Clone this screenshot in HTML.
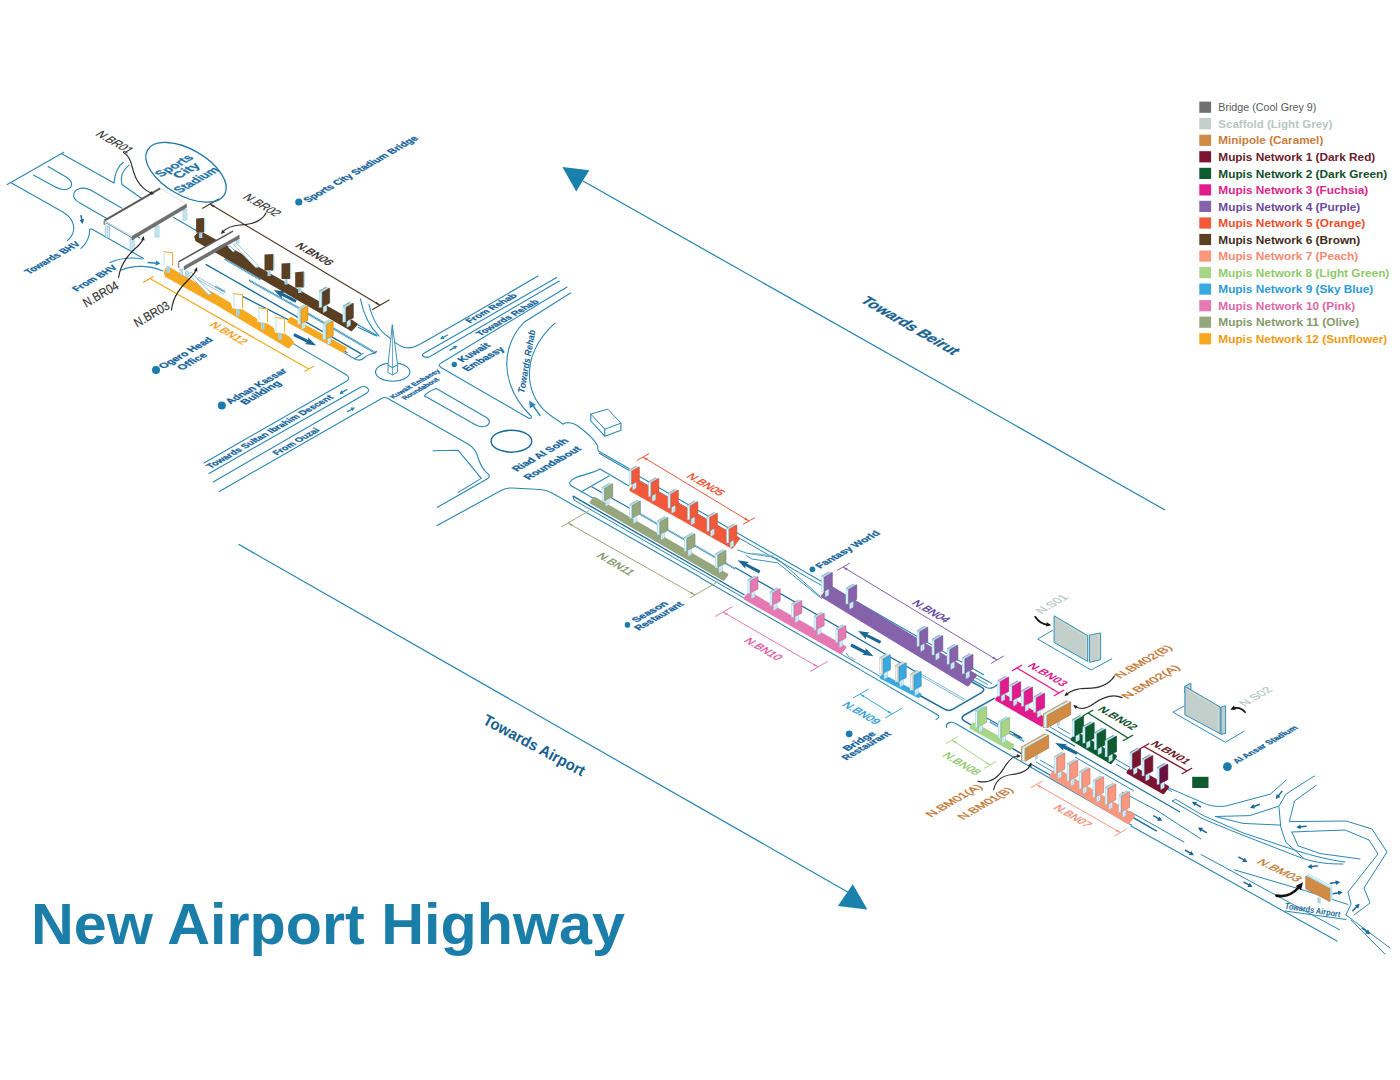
<!DOCTYPE html>
<html><head><meta charset="utf-8"><title>New Airport Highway</title>
<style>
html,body{margin:0;padding:0;background:#fff;}
body{width:1400px;height:1080px;overflow:hidden;}
svg{display:block;font-family:"Liberation Sans",sans-serif;}
</style></head><body>
<svg width="1400" height="1080" viewBox="0 0 1400 1080">
<rect width="1400" height="1080" fill="#fff"/>
<text transform="translate(31.0,944.0)" font-size="56.5" fill="#1b7ea8" font-weight="bold" font-style="normal" text-anchor="start" textLength="594" lengthAdjust="spacingAndGlyphs" >New Airport Highway</text>
<rect x="1199.3" y="101.6" width="11.8" height="11.2" fill="#6f7072"/>
<text transform="translate(1218.3,111.3)" font-size="11.8" fill="#58595b" font-weight="normal" font-style="normal" text-anchor="start" textLength="98" lengthAdjust="spacingAndGlyphs" >Bridge (Cool Grey 9)</text>
<rect x="1199.3" y="118.1" width="11.8" height="11.2" fill="#c3cfcb"/>
<text transform="translate(1218.3,127.8)" font-size="11.8" fill="#b7c7c3" font-weight="bold" font-style="normal" text-anchor="start" textLength="114" lengthAdjust="spacingAndGlyphs" >Scaffold (Light Grey)</text>
<rect x="1199.3" y="134.7" width="11.8" height="11.2" fill="#d08b46"/>
<text transform="translate(1218.3,144.4)" font-size="11.8" fill="#c97d3a" font-weight="bold" font-style="normal" text-anchor="start" textLength="105" lengthAdjust="spacingAndGlyphs" >Minipole (Caramel)</text>
<rect x="1199.3" y="151.2" width="11.8" height="11.2" fill="#7a1430"/>
<text transform="translate(1218.3,160.9)" font-size="11.8" fill="#6d1a2c" font-weight="bold" font-style="normal" text-anchor="start" textLength="157" lengthAdjust="spacingAndGlyphs" >Mupis Network 1 (Dark Red)</text>
<rect x="1199.3" y="167.8" width="11.8" height="11.2" fill="#0f5a2f"/>
<text transform="translate(1218.3,177.5)" font-size="11.8" fill="#0f4f2b" font-weight="bold" font-style="normal" text-anchor="start" textLength="169" lengthAdjust="spacingAndGlyphs" >Mupis Network 2 (Dark Green)</text>
<rect x="1199.3" y="184.3" width="11.8" height="11.2" fill="#e21b8d"/>
<text transform="translate(1218.3,194.0)" font-size="11.8" fill="#dd1f8a" font-weight="bold" font-style="normal" text-anchor="start" textLength="150" lengthAdjust="spacingAndGlyphs" >Mupis Network 3 (Fuchsia)</text>
<rect x="1199.3" y="200.8" width="11.8" height="11.2" fill="#8662ab"/>
<text transform="translate(1218.3,210.5)" font-size="11.8" fill="#6a4a9c" font-weight="bold" font-style="normal" text-anchor="start" textLength="142" lengthAdjust="spacingAndGlyphs" >Mupis Network 4 (Purple)</text>
<rect x="1199.3" y="217.4" width="11.8" height="11.2" fill="#f1593a"/>
<text transform="translate(1218.3,227.1)" font-size="11.8" fill="#ee4b2b" font-weight="bold" font-style="normal" text-anchor="start" textLength="147" lengthAdjust="spacingAndGlyphs" >Mupis Network 5 (Orange)</text>
<rect x="1199.3" y="233.9" width="11.8" height="11.2" fill="#5a3f23"/>
<text transform="translate(1218.3,243.6)" font-size="11.8" fill="#3f2d1a" font-weight="bold" font-style="normal" text-anchor="start" textLength="142" lengthAdjust="spacingAndGlyphs" >Mupis Network 6 (Brown)</text>
<rect x="1199.3" y="250.5" width="11.8" height="11.2" fill="#f9977f"/>
<text transform="translate(1218.3,260.2)" font-size="11.8" fill="#f58a72" font-weight="bold" font-style="normal" text-anchor="start" textLength="140" lengthAdjust="spacingAndGlyphs" >Mupis Network 7 (Peach)</text>
<rect x="1199.3" y="267.0" width="11.8" height="11.2" fill="#a9d586"/>
<text transform="translate(1218.3,276.7)" font-size="11.8" fill="#8fc96a" font-weight="bold" font-style="normal" text-anchor="start" textLength="171" lengthAdjust="spacingAndGlyphs" >Mupis Network 8 (Light Green)</text>
<rect x="1199.3" y="283.5" width="11.8" height="11.2" fill="#3aa9e0"/>
<text transform="translate(1218.3,293.2)" font-size="11.8" fill="#2b9bd6" font-weight="bold" font-style="normal" text-anchor="start" textLength="155" lengthAdjust="spacingAndGlyphs" >Mupis Network 9 (Sky Blue)</text>
<rect x="1199.3" y="300.1" width="11.8" height="11.2" fill="#e679b2"/>
<text transform="translate(1218.3,309.8)" font-size="11.8" fill="#e066a6" font-weight="bold" font-style="normal" text-anchor="start" textLength="137" lengthAdjust="spacingAndGlyphs" >Mupis Network 10 (Pink)</text>
<rect x="1199.3" y="316.6" width="11.8" height="11.2" fill="#97a77d"/>
<text transform="translate(1218.3,326.3)" font-size="11.8" fill="#86996a" font-weight="bold" font-style="normal" text-anchor="start" textLength="141" lengthAdjust="spacingAndGlyphs" >Mupis Network 11 (Olive)</text>
<rect x="1199.3" y="333.2" width="11.8" height="11.2" fill="#f6a81f"/>
<text transform="translate(1218.3,342.9)" font-size="11.8" fill="#f39a10" font-weight="bold" font-style="normal" text-anchor="start" textLength="169" lengthAdjust="spacingAndGlyphs" >Mupis Network 12 (Sunflower)</text>
<line x1="583.0" y1="181.0" x2="1165.0" y2="510.0" stroke="#2383b1" stroke-width="1.2" />
<polygon points="562.4,167.0 589.3,170.3 576.2,191.6" fill="#1a80ac" stroke="none" stroke-width="0" />
<line x1="238.5" y1="544.3" x2="852.0" y2="894.5" stroke="#2383b1" stroke-width="1.2" />
<polygon points="852.8,884.3 867.4,909.5 837.8,906.1" fill="#1a80ac" stroke="none" stroke-width="0" />
<text transform="translate(482.0,723.3) rotate(28.2)" font-size="15.5" fill="#15608f" font-weight="bold" font-style="normal" text-anchor="start" textLength="113" lengthAdjust="spacingAndGlyphs" >Towards Airport</text>
<path d="M7.2,184.5 L63.8,152.2" stroke="#2a86b3" stroke-width="1.1" fill="none" stroke-linecap="round" stroke-linejoin="round"/>
<path d="M61.7,153.7 L114,183.1 C115,172 118,166 123.4,162.3" stroke="#2a86b3" stroke-width="1.1" fill="none" stroke-linecap="round" stroke-linejoin="round"/>
<path d="M129,165.2 C122,171 120,178 122,184.5 L141,198" stroke="#2a86b3" stroke-width="1.1" fill="none" stroke-linecap="round" stroke-linejoin="round"/>
<path d="M48,166.6 L67,177.5 C74,182 73,189.5 64,189.5 C60,189.5 57,188 54,186.3 L33.7,175.2" stroke="#2a86b3" stroke-width="1.1" fill="none" stroke-linecap="round" stroke-linejoin="round"/>
<path d="M122,208.2 L91,190.3 C84,186.5 76,188 74,193 C72.5,197.5 76,201 80.3,203.2 L112,221.5" stroke="#2a86b3" stroke-width="1.1" fill="none" stroke-linecap="round" stroke-linejoin="round"/>
<path d="M11.5,183.1 L62,211.5 C72,217 76,226 72.5,234 C71,237.5 69,239.5 67.4,240.5" stroke="#2a86b3" stroke-width="1.1" fill="none" stroke-linecap="round" stroke-linejoin="round"/>
<path d="M81,248.4 C87,243 90,236 89.7,229 L91.8,229 L143.5,258.4" stroke="#2a86b3" stroke-width="1.1" fill="none" stroke-linecap="round" stroke-linejoin="round"/>
<line x1="80.9" y1="215.1" x2="82.4" y2="222.1" stroke="#1b6796" stroke-width="1.5" />
<polygon points="82.7,223.9 79.5,220.0 84.1,219.0" fill="#1b6796" stroke="none" stroke-width="0" />
<path d="M110,262.5 C122,257.5 134,257.5 142,259" stroke="#2a86b3" stroke-width="1.1" fill="none" stroke-linecap="round" stroke-linejoin="round"/>
<path d="M121.5,270 C134,264.5 150,265.5 163,271" stroke="#2a86b3" stroke-width="1.1" fill="none" stroke-linecap="round" stroke-linejoin="round"/>
<line x1="147.5" y1="262.5" x2="158.6" y2="263.3" stroke="#2a86b3" stroke-width="1.6" />
<polygon points="160.5,263.5 155.5,265.7 155.9,260.6" fill="#2a86b3" stroke="none" stroke-width="0" />
<path d="M173.2,217.3 L197,231" stroke="#2a86b3" stroke-width="1.1" fill="none" stroke-linecap="round" stroke-linejoin="round"/>
<path d="M141,198 L160,209" stroke="#2a86b3" stroke-width="1.1" fill="none" stroke-linecap="round" stroke-linejoin="round"/>
<path d="M126,230 L140,238" stroke="#2a86b3" stroke-width="1.1" fill="none" stroke-linecap="round" stroke-linejoin="round"/>
<path d="M206.2,264.6 L231.4,279 L360.4,353.3" stroke="#1c6c9c" stroke-width="1.4" fill="none" stroke-linecap="round" stroke-linejoin="round"/>
<path d="M242.5,296.4 L297.1,324.3 L347,352.5" stroke="#1c6c9c" stroke-width="1.2" fill="none" stroke-linecap="round" stroke-linejoin="round"/>
<line x1="224.8" y1="258.9" x2="260.7" y2="279.7" stroke="#8cc3dc" stroke-width="2"/>
<line x1="224.8" y1="258.9" x2="260.7" y2="279.7" stroke="#3b8fbd" stroke-width="2" stroke-dasharray="0.7 0.9"/>
<line x1="249.2" y1="280.4" x2="298.6" y2="307.9" stroke="#8cc3dc" stroke-width="2"/>
<line x1="249.2" y1="280.4" x2="298.6" y2="307.9" stroke="#3b8fbd" stroke-width="2" stroke-dasharray="0.7 0.9"/>
<line x1="300.0" y1="309.0" x2="374.8" y2="352.6" stroke="#8cc3dc" stroke-width="2.2"/>
<line x1="300.0" y1="309.0" x2="374.8" y2="352.6" stroke="#3b8fbd" stroke-width="2.2" stroke-dasharray="0.7 0.9"/>
<line x1="215.5" y1="286.5" x2="224.5" y2="291.5" stroke="#8cc3dc" stroke-width="2"/>
<line x1="215.5" y1="286.5" x2="224.5" y2="291.5" stroke="#3b8fbd" stroke-width="2" stroke-dasharray="0.7 0.9"/>
<polygon points="296.8,300.0 283.1,293.0 285.4,291.6 273.9,290.0 281.9,298.4 281.6,295.7 295.4,302.8" fill="#1b6796" stroke="none" stroke-width="0" />
<polygon points="293.2,336.0 307.0,342.8 304.7,344.1 316.2,345.6 308.0,337.3 308.4,340.0 294.6,333.2" fill="#1b6796" stroke="none" stroke-width="0" />
<path d="M293.6,343.9 L345.5,374.3 C349,376.5 350,379 346.5,381.2 L204,463" stroke="#2a86b3" stroke-width="1.1" fill="none" stroke-linecap="round" stroke-linejoin="round"/>
<path d="M343.9,352.6 L354.5,358.8 C359,361.5 362,360 364.5,357.5 C367,355 371,353.8 375.5,353 L376.5,351.2 L374.8,352.6" stroke="#2a86b3" stroke-width="1.1" fill="none" stroke-linecap="round" stroke-linejoin="round"/>
<path d="M354.5,358.8 L363,353.5" stroke="#2a86b3" stroke-width="1.1" fill="none" stroke-linecap="round" stroke-linejoin="round"/>
<path d="M360.4,298.8 C363,312 369,326 379.1,336.1" stroke="#2a86b3" stroke-width="1.1" fill="none" stroke-linecap="round" stroke-linejoin="round"/>
<path d="M369,304.5 C372,318 378,330 389.1,337.5 C393,341 398,345.5 404,347.3 C409,348.8 414,347.5 419,344.8 L460,321.5 L538,276" stroke="#2a86b3" stroke-width="1.1" fill="none" stroke-linecap="round" stroke-linejoin="round"/>
<path d="M357.5,324.5 L377,335.5" stroke="#2a86b3" stroke-width="1.1" fill="none" stroke-linecap="round" stroke-linejoin="round"/>
<path d="M358.5,327.5 L376.5,336" stroke="#2a86b3" stroke-width="1.1" fill="none" stroke-linecap="round" stroke-linejoin="round"/>
<ellipse cx="392.7" cy="372" rx="17.2" ry="9.3" fill="#fff" stroke="#2a86b3" stroke-width="1.1"/>
<polygon points="388.0,365.0 392.6,367.5 397.6,364.8 397.6,372.0 392.6,375.0 388.0,372.5" fill="#fff" stroke="#2a86b3" stroke-width="0.9" stroke-linejoin="round"/>
<line x1="392.6" y1="367.5" x2="392.6" y2="375.0" stroke="#2a86b3" stroke-width="0.8" />
<polygon points="392.3,324.6 388.0,365.0 392.6,367.5 397.6,364.8" fill="#fff" stroke="#2a86b3" stroke-width="0.9" stroke-linejoin="round"/>
<line x1="392.3" y1="326.0" x2="392.6" y2="367.5" stroke="#2a86b3" stroke-width="0.7" />
<path d="M426,357.2 C422.5,356.8 421,354.8 424,353.2 L556.7,277.5" stroke="#2a86b3" stroke-width="1.1" fill="none" stroke-linecap="round" stroke-linejoin="round"/>
<path d="M426,357.2 C427.5,357.6 428.5,357.3 430,356.5 L559.3,281" stroke="#2a86b3" stroke-width="1.1" fill="none" stroke-linecap="round" stroke-linejoin="round"/>
<path d="M567.1,287 L441.5,362.8 C438.5,364.6 438.5,366 441,367.5 L527,417.2 C530.5,419.2 532.3,418.3 531,416 C512,398 502,372 509,348 C512,338 517,329 524,322.3 L570.5,293" stroke="#2a86b3" stroke-width="1.1" fill="none" stroke-linecap="round" stroke-linejoin="round"/>
<path d="M555,323.1 C538,338 528,358 529.5,378 C531,396 541,409 552,416.5 C556,419.2 559,421 562.7,424.2 C566,422 572,422 576.7,425.2 C585,431 594,438 597.8,446.3 C597.3,448.5 597.5,450 598.8,451.3 L629,468.4" stroke="#2a86b3" stroke-width="1.1" fill="none" stroke-linecap="round" stroke-linejoin="round"/>
<line x1="447.9" y1="334.8" x2="441.5" y2="338.5" stroke="#2a86b3" stroke-width="1.3" />
<polygon points="440.1,339.2 442.4,335.5 444.5,339.1" fill="#2a86b3" stroke="none" stroke-width="0" />
<line x1="449.6" y1="350.4" x2="456.0" y2="346.6" stroke="#2a86b3" stroke-width="1.3" />
<polygon points="457.4,345.9 455.1,349.6 453.0,346.0" fill="#2a86b3" stroke="none" stroke-width="0" />
<line x1="540.4" y1="416.0" x2="531.5" y2="403.5" stroke="#2a86b3" stroke-width="1.3" />
<polygon points="529.2,400.6 535.8,404.8 529.8,408.3" fill="#2a86b3" stroke="none" stroke-width="0" />
<path d="M424.5,396.2 C425.5,393.5 431,390.5 436.3,388.6 L486,417.3 C490.5,420 490.5,424 486,426 C482,427.7 478.5,426.5 475,424.5 L426.5,397 Z" stroke="#2a86b3" stroke-width="1.1" fill="none" stroke-linecap="round" stroke-linejoin="round"/>
<path d="M209,473.4 L360.4,387.3 C363.5,385.6 365,386.3 367,387.8 C369.5,389.8 369,391.8 365.6,393.8 L213.2,482" stroke="#2a86b3" stroke-width="1.1" fill="none" stroke-linecap="round" stroke-linejoin="round"/>
<path d="M219.3,491.5 L381.5,398.5 C383.5,397.2 385.5,397.2 387.5,398.3 L468,444 C473,447 476,451 477.5,456 C479.5,463 483,470 488.4,474.4 C490,476 489.5,477.5 487,479 L437.5,507.3" stroke="#2a86b3" stroke-width="1.1" fill="none" stroke-linecap="round" stroke-linejoin="round"/>
<line x1="347.1" y1="389.4" x2="340.7" y2="393.1" stroke="#2a86b3" stroke-width="1.3" />
<polygon points="339.3,393.9 341.6,390.1 343.7,393.7" fill="#2a86b3" stroke="none" stroke-width="0" />
<line x1="347.1" y1="411.9" x2="353.5" y2="408.2" stroke="#2a86b3" stroke-width="1.3" />
<polygon points="354.9,407.4 352.6,411.2 350.5,407.6" fill="#2a86b3" stroke="none" stroke-width="0" />
<path d="M433.1,450.7 L458.2,450.3 L481.3,478.4 L458.2,492.4" stroke="#2a86b3" stroke-width="1.1" fill="none" stroke-linecap="round" stroke-linejoin="round"/>
<ellipse cx="511.4" cy="441.2" rx="20.3" ry="11" fill="none" stroke="#1c6c9c" stroke-width="1.4"/>
<path d="M437.1,525.6 L501,490.5 C505,488.3 508,487.8 512,488 L540,489.5 C545,489.8 548,490.8 552,493 L700,577" stroke="#2a86b3" stroke-width="1.1" fill="none" stroke-linecap="round" stroke-linejoin="round"/>
<polygon points="590.8,414.1 607.8,409.1 620.9,423.2 604.8,429.2" fill="#fff" stroke="#2a86b3" stroke-width="1" stroke-linejoin="round"/>
<path d="M590.8,414.1 L590.8,421 L604.8,436.2 L620.9,430.2 L620.9,423.2 M604.8,429.2 L604.8,436.2" stroke="#2a86b3" stroke-width="1.1" fill="none" stroke-linecap="round" stroke-linejoin="round"/>
<line x1="598.8" y1="453.1" x2="984.0" y2="675.1" stroke="#2a86b3" stroke-width="1.1" />
<line x1="629.0" y1="474.5" x2="992.0" y2="683.7" stroke="#2a86b3" stroke-width="1.0" />
<path d="M600,469 C594,473 583,474.5 576,477.5 C570,480 568,483.5 571.5,486 C574,487.8 577,489 581,491.2 L640,525" stroke="#2a86b3" stroke-width="1.1" fill="none" stroke-linecap="round" stroke-linejoin="round"/>
<path d="M600,469 L629,486" stroke="#2a86b3" stroke-width="1.1" fill="none" stroke-linecap="round" stroke-linejoin="round"/>
<path d="M581,492 L609,476" stroke="#2a86b3" stroke-width="1.1" fill="none" stroke-linecap="round" stroke-linejoin="round"/>
<path d="M592,487 L640,514" stroke="#1c6c9c" stroke-width="1.1" fill="none" stroke-linecap="round" stroke-linejoin="round"/>
<line x1="640.0" y1="514.0" x2="735.0" y2="568.8" stroke="#8cc3dc" stroke-width="1.8"/>
<line x1="640.0" y1="514.0" x2="735.0" y2="568.8" stroke="#3b8fbd" stroke-width="1.8" stroke-dasharray="0.7 0.9"/>
<line x1="735.0" y1="567.5" x2="921.0" y2="674.7" stroke="#1c6c9c" stroke-width="1.2" />
<line x1="921.0" y1="674.0" x2="965.5" y2="699.7" stroke="#5fa7cb" stroke-width="0.8" />
<line x1="921.0" y1="676.0" x2="964.0" y2="700.8" stroke="#5fa7cb" stroke-width="0.8" />
<line x1="573.0" y1="496.1" x2="744.5" y2="595.0" stroke="#1c6c9c" stroke-width="1.4" />
<line x1="574.0" y1="500.0" x2="881.0" y2="676.9" stroke="#2a86b3" stroke-width="1.0" />
<path d="M573,496.1 L574,499.9" stroke="#1c6c9c" stroke-width="0.9" fill="none" stroke-linecap="round" stroke-linejoin="round"/>
<line x1="700.0" y1="577.4" x2="860.0" y2="669.6" stroke="#2a86b3" stroke-width="1.1" />
<line x1="860.0" y1="669.6" x2="936.5" y2="714.3" stroke="#2a86b3" stroke-width="1.1" />
<path d="M737.6,549.9 L746.7,553.2 L772.6,557.1 L777.8,559 L820,596.2" stroke="#2a86b3" stroke-width="0.9" fill="none" stroke-linecap="round" stroke-linejoin="round"/>
<path d="M746,555.5 L751.9,559 L777.8,562.9 L821.5,598.5" stroke="#2a86b3" stroke-width="0.9" fill="none" stroke-linecap="round" stroke-linejoin="round"/>
<path d="M752,553.5 L773,556" stroke="#7fbad6" stroke-width="1.6" fill="none" stroke-linecap="round" stroke-linejoin="round"/>
<polygon points="760.4,570.6 746.7,563.4 749.1,562.1 737.6,560.3 745.5,568.8 745.3,566.1 759.0,573.4" fill="#1b6796" stroke="none" stroke-width="0" />
<polygon points="881.2,640.9 867.2,633.9 869.5,632.5 858.0,631.0 866.1,639.3 865.8,636.6 879.8,643.7" fill="#1b6796" stroke="none" stroke-width="0" />
<polygon points="850.3,646.4 864.3,653.4 862.0,654.8 873.5,656.3 865.4,648.0 865.7,650.7 851.7,643.6" fill="#1b6796" stroke="none" stroke-width="0" />
<polygon points="656.6,528.2 662.1,531.1 660.4,531.3 666.5,532.5 662.0,528.1 662.9,529.7 657.4,526.8" fill="#1b6796" stroke="none" stroke-width="0" />
<path d="M919.9,695.5 L944.5,709.2 C947.5,710.9 950,710.9 953,709.2 L981.5,692.6 C984.6,690.8 984.6,688.8 981.5,687.2 L972,682" stroke="#1c6c9c" stroke-width="1.5" fill="none" stroke-linecap="round" stroke-linejoin="round"/>
<path d="M936.5,714.3 C939.8,716.1 940.3,717.6 936,719.5" stroke="#2a86b3" stroke-width="1.1" fill="none" stroke-linecap="round" stroke-linejoin="round"/>
<path d="M946.5,727.5 C946,724.8 947.5,723 950.5,722.4 C952.5,722 954,722.6 956,723.8 L1040,772.5" stroke="#2a86b3" stroke-width="1.1" fill="none" stroke-linecap="round" stroke-linejoin="round"/>
<path d="M846.5,653.5 L849,657" stroke="#2a86b3" stroke-width="0.8" fill="none" stroke-linecap="round" stroke-linejoin="round"/>
<path d="M972.9,680 L986,687.3 C989.5,689.2 993,688.5 997.4,684.5" stroke="#2a86b3" stroke-width="1.1" fill="none" stroke-linecap="round" stroke-linejoin="round"/>
<path d="M975,677.5 L987.5,684.5 M977,675.3 L989,682" stroke="#2a86b3" stroke-width="0.9" fill="none" stroke-linecap="round" stroke-linejoin="round"/>
<path d="M994.2,698.3 L964.5,715 C961.2,716.9 961.2,719.3 964.5,721.2 L1022,754" stroke="#1c6c9c" stroke-width="1.5" fill="none" stroke-linecap="round" stroke-linejoin="round"/>
<path d="M976,712 L1022,738" stroke="#1c6c9c" stroke-width="1.1" fill="none" stroke-linecap="round" stroke-linejoin="round"/>
<line x1="990.0" y1="722.0" x2="1024.0" y2="741.5" stroke="#8cc3dc" stroke-width="1.6"/>
<line x1="990.0" y1="722.0" x2="1024.0" y2="741.5" stroke="#3b8fbd" stroke-width="1.6" stroke-dasharray="0.7 0.9"/>
<polygon points="1013.1,734.5 1018.2,737.3 1016.4,737.5 1022.5,738.8 1018.1,734.3 1018.9,736.0 1013.9,733.1" fill="#1b6796" stroke="none" stroke-width="0" />
<polygon points="1077.9,752.0 1064.5,745.7 1066.8,744.3 1055.2,743.0 1063.5,751.1 1063.1,748.5 1076.5,754.8" fill="#1b6796" stroke="none" stroke-width="0" />
<line x1="1046.0" y1="729.5" x2="1075.0" y2="746.2" stroke="#1c6c9c" stroke-width="1.1" />
<line x1="1050.0" y1="727.0" x2="1072.0" y2="739.7" stroke="#2a86b3" stroke-width="0.9" />
<line x1="1058.0" y1="727.0" x2="1070.0" y2="733.9" stroke="#2a86b3" stroke-width="0.9" />
<line x1="1030.0" y1="763.5" x2="1062.0" y2="781.9" stroke="#1c6c9c" stroke-width="1.2" />
<line x1="1036.0" y1="762.0" x2="1060.0" y2="775.8" stroke="#2a86b3" stroke-width="0.9" />
<line x1="1040.0" y1="760.0" x2="1058.0" y2="770.4" stroke="#2a86b3" stroke-width="0.9" />
<line x1="1040.0" y1="772.5" x2="1132.0" y2="825.5" stroke="#2a86b3" stroke-width="1.1" />
<line x1="1064.0" y1="745.0" x2="1180.0" y2="811.9" stroke="#1c6c9c" stroke-width="1.1" />
<line x1="1075.0" y1="757.0" x2="1134.0" y2="791.0" stroke="#2a86b3" stroke-width="1.0" />
<line x1="1112.0" y1="757.0" x2="1172.0" y2="791.6" stroke="#2a86b3" stroke-width="1.0" />
<line x1="1116.0" y1="764.0" x2="1130.0" y2="772.1" stroke="#2a86b3" stroke-width="1.0" />
<line x1="1131.0" y1="825.9" x2="1337.5" y2="941.3" stroke="#2a86b3" stroke-width="1.1" />
<line x1="1200.7" y1="854.3" x2="1340.0" y2="930.0" stroke="#2a86b3" stroke-width="1.0" />
<line x1="1132.7" y1="817.3" x2="1156.8" y2="831.1" stroke="#1c6c9c" stroke-width="1.4" />
<line x1="1129.3" y1="811.3" x2="1184.3" y2="842.3" stroke="#2a86b3" stroke-width="1.0" />
<path d="M1122.4,792.4 L1156.8,810.4 L1200.7,838.8" stroke="#2a86b3" stroke-width="1.0" fill="none" stroke-linecap="round" stroke-linejoin="round"/>
<path d="M1172.3,801 L1175.7,799.3 L1203.3,815.6 L1242.9,832.8 L1296,850.5 C1315,856.5 1330,860 1345,862" stroke="#2a86b3" stroke-width="1.0" fill="none" stroke-linecap="round" stroke-linejoin="round"/>
<path d="M1172.3,801 L1203.3,819 L1231,830.5 L1301.5,858 C1318,863.5 1330,864 1343,864" stroke="#2a86b3" stroke-width="1.0" fill="none" stroke-linecap="round" stroke-linejoin="round"/>
<path d="M1167.1,787.2 L1206.7,804.4 C1213,806.5 1219,806.8 1225.6,806.1 L1270.4,794.1 L1285.9,780.3" stroke="#2a86b3" stroke-width="1.0" fill="none" stroke-linecap="round" stroke-linejoin="round"/>
<path d="M1215.3,816.5 L1249.7,815.6 L1279,806.1 L1285.9,794.1 L1314.3,776" stroke="#2a86b3" stroke-width="1.0" fill="none" stroke-linecap="round" stroke-linejoin="round"/>
<path d="M1215.3,816.5 L1242.9,823.4 L1280.7,825.1" stroke="#2a86b3" stroke-width="1.0" fill="none" stroke-linecap="round" stroke-linejoin="round"/>
<path d="M1279,807 L1280.7,826.8 L1285.9,842.3 L1303.1,857.8" stroke="#2a86b3" stroke-width="1.0" fill="none" stroke-linecap="round" stroke-linejoin="round"/>
<path d="M1316,785.5 L1294.5,801 L1289.3,821.6 L1346,821 L1372,829 L1387,852 L1364,888 L1370,903 L1354,915" stroke="#2a86b3" stroke-width="1.0" fill="none" stroke-linecap="round" stroke-linejoin="round"/>
<path d="M1291.9,832 L1345,830 L1369,840 L1378,854 L1348,892 L1351,904 L1346,915" stroke="#2a86b3" stroke-width="1.0" fill="none" stroke-linecap="round" stroke-linejoin="round"/>
<path d="M1291.9,832 L1298,845.8 L1320,853.5 L1360,859" stroke="#2a86b3" stroke-width="1.0" fill="none" stroke-linecap="round" stroke-linejoin="round"/>
<path d="M1234.3,869.8 L1304.8,890.5 L1348,904.5" stroke="#2a86b3" stroke-width="1.0" fill="none" stroke-linecap="round" stroke-linejoin="round"/>
<path d="M1285,911 L1346,919.5 M1346,915 L1390,948" stroke="#2a86b3" stroke-width="1.0" fill="none" stroke-linecap="round" stroke-linejoin="round"/>
<path d="M1351,920 L1385,954" stroke="#2a86b3" stroke-width="1.0" fill="none" stroke-linecap="round" stroke-linejoin="round"/>
<line x1="1153.2" y1="815.6" x2="1160.7" y2="819.9" stroke="#1b6796" stroke-width="1.5" />
<polygon points="1162.2,820.8 1157.1,820.7 1159.5,816.5" fill="#1b6796" stroke="none" stroke-width="0" />
<line x1="1200.9" y1="807.0" x2="1193.4" y2="802.7" stroke="#1b6796" stroke-width="1.5" />
<polygon points="1191.9,801.8 1197.0,801.9 1194.6,806.1" fill="#1b6796" stroke="none" stroke-width="0" />
<line x1="1206.9" y1="832.8" x2="1199.4" y2="828.5" stroke="#1b6796" stroke-width="1.5" />
<polygon points="1197.9,827.6 1203.0,827.7 1200.6,831.9" fill="#1b6796" stroke="none" stroke-width="0" />
<line x1="1185.0" y1="850.0" x2="1192.5" y2="854.3" stroke="#1b6796" stroke-width="1.5" />
<polygon points="1194.0,855.2 1188.9,855.1 1191.3,850.9" fill="#1b6796" stroke="none" stroke-width="0" />
<line x1="1238.4" y1="856.9" x2="1245.9" y2="861.2" stroke="#1b6796" stroke-width="1.5" />
<polygon points="1247.4,862.1 1242.3,862.0 1244.7,857.8" fill="#1b6796" stroke="none" stroke-width="0" />
<line x1="1243.5" y1="881.9" x2="1251.0" y2="886.2" stroke="#1b6796" stroke-width="1.5" />
<polygon points="1252.5,887.1 1247.4,887.0 1249.8,882.8" fill="#1b6796" stroke="none" stroke-width="0" />
<line x1="1259.8" y1="804.3" x2="1251.7" y2="807.3" stroke="#1b6796" stroke-width="1.5" />
<polygon points="1250.0,807.9 1253.4,804.1 1255.0,808.6" fill="#1b6796" stroke="none" stroke-width="0" />
<line x1="1282.2" y1="790.9" x2="1276.9" y2="797.7" stroke="#1b6796" stroke-width="1.5" />
<polygon points="1275.8,799.1 1276.6,794.1 1280.4,797.1" fill="#1b6796" stroke="none" stroke-width="0" />
<line x1="1306.6" y1="826.3" x2="1298.0" y2="827.1" stroke="#1b6796" stroke-width="1.5" />
<polygon points="1296.2,827.3 1300.4,824.5 1300.9,829.3" fill="#1b6796" stroke="none" stroke-width="0" />
<line x1="1317.8" y1="865.7" x2="1309.2" y2="866.9" stroke="#1b6796" stroke-width="1.5" />
<polygon points="1307.4,867.1 1311.5,864.1 1312.2,868.9" fill="#1b6796" stroke="none" stroke-width="0" />
<line x1="1329.8" y1="883.2" x2="1338.4" y2="882.3" stroke="#1b6796" stroke-width="1.5" />
<polygon points="1340.2,882.2 1336.0,885.0 1335.5,880.2" fill="#1b6796" stroke="none" stroke-width="0" />
<line x1="1332.3" y1="893.7" x2="1340.9" y2="892.5" stroke="#1b6796" stroke-width="1.5" />
<polygon points="1342.7,892.3 1338.6,895.3 1337.9,890.5" fill="#1b6796" stroke="none" stroke-width="0" />
<line x1="1352.3" y1="911.2" x2="1358.4" y2="905.1" stroke="#1b6796" stroke-width="1.5" />
<polygon points="1359.7,903.8 1358.2,908.7 1354.8,905.3" fill="#1b6796" stroke="none" stroke-width="0" />
<line x1="1361.9" y1="927.8" x2="1368.7" y2="933.1" stroke="#1b6796" stroke-width="1.5" />
<polygon points="1370.1,934.2 1365.1,933.4 1368.1,929.6" fill="#1b6796" stroke="none" stroke-width="0" />
<polygon points="630.9,489.9 732.0,547.1 738.4,538.6 637.4,481.4" fill="#f1593a" stroke="#f1593a" stroke-width="3.0" stroke-linejoin="round"/>
<polygon points="628.8,470.3 636.3,466.0 639.3,466.9 639.3,480.4 631.8,484.7 628.8,485.3" fill="#a9dcec" stroke="none" stroke-width="0" />
<line x1="630.1" y1="471.5" x2="630.1" y2="484.3" stroke="#f2fbff" stroke-width="1.0" />
<line x1="629.0" y1="470.2" x2="636.3" y2="465.9" stroke="#d85034" stroke-width="0.5" />
<polygon points="631.8,471.2 639.3,466.9 639.3,480.4 631.8,484.7" fill="#f1593a" stroke="#c5482f" stroke-width="0.6" stroke-linejoin="round"/>
<polygon points="632.7,484.3 636.1,482.4 636.1,488.1 632.7,490.0" fill="#e4f4fa" stroke="#8cc6dc" stroke-width="0.6" />
<line x1="634.4" y1="484.9" x2="634.4" y2="488.1" stroke="#a8cfdf" stroke-width="0.7" />
<polygon points="648.3,481.9 655.8,477.6 658.8,478.5 658.8,492.0 651.3,496.3 648.3,496.9" fill="#a9dcec" stroke="none" stroke-width="0" />
<line x1="649.6" y1="483.1" x2="649.6" y2="495.9" stroke="#f2fbff" stroke-width="1.0" />
<line x1="648.5" y1="481.8" x2="655.8" y2="477.5" stroke="#d85034" stroke-width="0.5" />
<polygon points="651.3,482.8 658.8,478.5 658.8,492.0 651.3,496.3" fill="#f1593a" stroke="#c5482f" stroke-width="0.6" stroke-linejoin="round"/>
<polygon points="652.2,495.9 655.6,494.0 655.6,499.7 652.2,501.6" fill="#e4f4fa" stroke="#8cc6dc" stroke-width="0.6" />
<line x1="653.9" y1="496.5" x2="653.9" y2="499.7" stroke="#a8cfdf" stroke-width="0.7" />
<polygon points="667.8,493.5 675.3,489.2 678.3,490.1 678.3,503.6 670.8,507.9 667.8,508.5" fill="#a9dcec" stroke="none" stroke-width="0" />
<line x1="669.1" y1="494.7" x2="669.1" y2="507.5" stroke="#f2fbff" stroke-width="1.0" />
<line x1="668.0" y1="493.4" x2="675.3" y2="489.1" stroke="#d85034" stroke-width="0.5" />
<polygon points="670.8,494.4 678.3,490.1 678.3,503.6 670.8,507.9" fill="#f1593a" stroke="#c5482f" stroke-width="0.6" stroke-linejoin="round"/>
<polygon points="671.7,507.5 675.1,505.6 675.1,511.3 671.7,513.2" fill="#e4f4fa" stroke="#8cc6dc" stroke-width="0.6" />
<line x1="673.4" y1="508.1" x2="673.4" y2="511.3" stroke="#a8cfdf" stroke-width="0.7" />
<polygon points="687.3,505.1 694.8,500.8 697.8,501.7 697.8,515.2 690.3,519.5 687.3,520.1" fill="#a9dcec" stroke="none" stroke-width="0" />
<line x1="688.6" y1="506.3" x2="688.6" y2="519.1" stroke="#f2fbff" stroke-width="1.0" />
<line x1="687.5" y1="505.0" x2="694.8" y2="500.7" stroke="#d85034" stroke-width="0.5" />
<polygon points="690.3,506.0 697.8,501.7 697.8,515.2 690.3,519.5" fill="#f1593a" stroke="#c5482f" stroke-width="0.6" stroke-linejoin="round"/>
<polygon points="691.2,519.1 694.6,517.2 694.6,522.9 691.2,524.8" fill="#e4f4fa" stroke="#8cc6dc" stroke-width="0.6" />
<line x1="692.9" y1="519.7" x2="692.9" y2="522.9" stroke="#a8cfdf" stroke-width="0.7" />
<polygon points="706.8,516.7 714.3,512.4 717.3,513.3 717.3,526.8 709.8,531.1 706.8,531.7" fill="#a9dcec" stroke="none" stroke-width="0" />
<line x1="708.1" y1="517.9" x2="708.1" y2="530.7" stroke="#f2fbff" stroke-width="1.0" />
<line x1="707.0" y1="516.6" x2="714.3" y2="512.3" stroke="#d85034" stroke-width="0.5" />
<polygon points="709.8,517.6 717.3,513.3 717.3,526.8 709.8,531.1" fill="#f1593a" stroke="#c5482f" stroke-width="0.6" stroke-linejoin="round"/>
<polygon points="710.7,530.7 714.1,528.8 714.1,534.5 710.7,536.4" fill="#e4f4fa" stroke="#8cc6dc" stroke-width="0.6" />
<line x1="712.4" y1="531.3" x2="712.4" y2="534.5" stroke="#a8cfdf" stroke-width="0.7" />
<polygon points="726.3,528.3 733.8,524.0 736.8,524.9 736.8,538.4 729.3,542.7 726.3,543.3" fill="#a9dcec" stroke="none" stroke-width="0" />
<line x1="727.6" y1="529.5" x2="727.6" y2="542.3" stroke="#f2fbff" stroke-width="1.0" />
<line x1="726.5" y1="528.2" x2="733.8" y2="523.9" stroke="#d85034" stroke-width="0.5" />
<polygon points="729.3,529.2 736.8,524.9 736.8,538.4 729.3,542.7" fill="#f1593a" stroke="#c5482f" stroke-width="0.6" stroke-linejoin="round"/>
<polygon points="730.2,542.3 733.6,540.4 733.6,546.1 730.2,548.0" fill="#e4f4fa" stroke="#8cc6dc" stroke-width="0.6" />
<line x1="731.9" y1="542.9" x2="731.9" y2="546.1" stroke="#a8cfdf" stroke-width="0.7" />
<line x1="643.0" y1="457.0" x2="749.0" y2="521.0" stroke="#f1593a" stroke-width="1" />
<line x1="636.9" y1="460.5" x2="649.1" y2="453.5" stroke="#f1593a" stroke-width="1" />
<line x1="742.9" y1="524.5" x2="755.1" y2="517.5" stroke="#f1593a" stroke-width="1" />
<polygon points="643.3,457.2 646.3,460.4 647.6,458.3" fill="#f1593a" stroke="none" stroke-width="0" />
<polygon points="748.7,520.8 745.7,517.6 744.4,519.7" fill="#f1593a" stroke="none" stroke-width="0" />
<polygon points="591.2,502.5 723.5,579.1 726.7,574.8 594.5,498.2" fill="#97a77d" stroke="#97a77d" stroke-width="3.0" stroke-linejoin="round"/>
<polygon points="601.7,487.5 609.7,482.9 612.7,483.8 612.7,496.4 604.7,501.0 601.7,501.6" fill="#a9dcec" stroke="none" stroke-width="0" />
<line x1="603.0" y1="488.7" x2="603.0" y2="500.6" stroke="#f2fbff" stroke-width="1.0" />
<line x1="601.9" y1="487.4" x2="609.7" y2="482.8" stroke="#879670" stroke-width="0.5" />
<polygon points="604.7,488.4 612.7,483.8 612.7,496.4 604.7,501.0" fill="#97a77d" stroke="#7b8866" stroke-width="0.6" stroke-linejoin="round"/>
<polygon points="605.7,500.6 609.1,498.7 609.1,504.4 605.7,506.3" fill="#e4f4fa" stroke="#8cc6dc" stroke-width="0.6" />
<line x1="607.4" y1="501.2" x2="607.4" y2="504.4" stroke="#a8cfdf" stroke-width="0.7" />
<polygon points="629.4,504.7 637.4,500.1 640.4,501.0 640.4,513.6 632.4,518.2 629.4,518.8" fill="#a9dcec" stroke="none" stroke-width="0" />
<line x1="630.7" y1="505.9" x2="630.7" y2="517.8" stroke="#f2fbff" stroke-width="1.0" />
<line x1="629.6" y1="504.6" x2="637.4" y2="500.0" stroke="#879670" stroke-width="0.5" />
<polygon points="632.4,505.6 640.4,501.0 640.4,513.6 632.4,518.2" fill="#97a77d" stroke="#7b8866" stroke-width="0.6" stroke-linejoin="round"/>
<polygon points="633.4,517.8 636.8,515.9 636.8,521.6 633.4,523.5" fill="#e4f4fa" stroke="#8cc6dc" stroke-width="0.6" />
<line x1="635.1" y1="518.4" x2="635.1" y2="521.6" stroke="#a8cfdf" stroke-width="0.7" />
<polygon points="657.0,521.1 665.0,516.5 668.0,517.4 668.0,530.0 660.0,534.6 657.0,535.2" fill="#a9dcec" stroke="none" stroke-width="0" />
<line x1="658.3" y1="522.3" x2="658.3" y2="534.2" stroke="#f2fbff" stroke-width="1.0" />
<line x1="657.2" y1="521.0" x2="665.0" y2="516.4" stroke="#879670" stroke-width="0.5" />
<polygon points="660.0,522.0 668.0,517.4 668.0,530.0 660.0,534.6" fill="#97a77d" stroke="#7b8866" stroke-width="0.6" stroke-linejoin="round"/>
<polygon points="661.0,534.2 664.4,532.3 664.4,538.0 661.0,539.9" fill="#e4f4fa" stroke="#8cc6dc" stroke-width="0.6" />
<line x1="662.7" y1="534.8" x2="662.7" y2="538.0" stroke="#a8cfdf" stroke-width="0.7" />
<polygon points="684.0,537.5 692.0,532.9 695.0,533.8 695.0,546.4 687.0,551.0 684.0,551.6" fill="#a9dcec" stroke="none" stroke-width="0" />
<line x1="685.3" y1="538.7" x2="685.3" y2="550.6" stroke="#f2fbff" stroke-width="1.0" />
<line x1="684.2" y1="537.4" x2="692.0" y2="532.8" stroke="#879670" stroke-width="0.5" />
<polygon points="687.0,538.4 695.0,533.8 695.0,546.4 687.0,551.0" fill="#97a77d" stroke="#7b8866" stroke-width="0.6" stroke-linejoin="round"/>
<polygon points="688.0,550.6 691.4,548.7 691.4,554.4 688.0,556.3" fill="#e4f4fa" stroke="#8cc6dc" stroke-width="0.6" />
<line x1="689.7" y1="551.2" x2="689.7" y2="554.4" stroke="#a8cfdf" stroke-width="0.7" />
<polygon points="715.0,554.1 723.0,549.5 726.0,550.4 726.0,563.0 718.0,567.6 715.0,568.2" fill="#a9dcec" stroke="none" stroke-width="0" />
<line x1="716.3" y1="555.3" x2="716.3" y2="567.2" stroke="#f2fbff" stroke-width="1.0" />
<line x1="715.2" y1="554.0" x2="723.0" y2="549.4" stroke="#879670" stroke-width="0.5" />
<polygon points="718.0,555.0 726.0,550.4 726.0,563.0 718.0,567.6" fill="#97a77d" stroke="#7b8866" stroke-width="0.6" stroke-linejoin="round"/>
<polygon points="719.0,567.2 722.4,565.3 722.4,571.0 719.0,572.9" fill="#e4f4fa" stroke="#8cc6dc" stroke-width="0.6" />
<line x1="720.7" y1="567.8" x2="720.7" y2="571.0" stroke="#a8cfdf" stroke-width="0.7" />
<line x1="568.0" y1="523.0" x2="695.0" y2="595.0" stroke="#97a77d" stroke-width="1" />
<line x1="561.1" y1="527.0" x2="588.8" y2="511.0" stroke="#97a77d" stroke-width="1" />
<line x1="689.8" y1="598.0" x2="717.5" y2="582.0" stroke="#97a77d" stroke-width="1" />
<polygon points="568.3,523.1 571.4,526.4 572.6,524.2" fill="#97a77d" stroke="none" stroke-width="0" />
<polygon points="694.7,594.9 691.6,591.6 690.4,593.8" fill="#97a77d" stroke="none" stroke-width="0" />
<polygon points="745.1,598.5 840.8,652.7 844.8,647.3 749.2,593.1" fill="#e679b2" stroke="#e679b2" stroke-width="3.0" stroke-linejoin="round"/>
<polygon points="747.5,580.1 755.0,575.8 758.0,576.7 758.0,589.0 750.5,593.3 747.5,593.9" fill="#a9dcec" stroke="none" stroke-width="0" />
<line x1="748.8" y1="581.3" x2="748.8" y2="592.9" stroke="#f2fbff" stroke-width="1.0" />
<line x1="747.7" y1="580.0" x2="755.0" y2="575.7" stroke="#cf6ca0" stroke-width="0.5" />
<polygon points="750.5,581.0 758.0,576.7 758.0,589.0 750.5,593.3" fill="#e679b2" stroke="#bc6391" stroke-width="0.6" stroke-linejoin="round"/>
<polygon points="751.4,592.9 754.8,591.0 754.8,596.7 751.4,598.6" fill="#e4f4fa" stroke="#8cc6dc" stroke-width="0.6" />
<line x1="753.1" y1="593.5" x2="753.1" y2="596.7" stroke="#a8cfdf" stroke-width="0.7" />
<polygon points="769.7,592.1 777.2,587.8 780.2,588.7 780.2,601.0 772.7,605.3 769.7,605.9" fill="#a9dcec" stroke="none" stroke-width="0" />
<line x1="771.0" y1="593.3" x2="771.0" y2="604.9" stroke="#f2fbff" stroke-width="1.0" />
<line x1="769.9" y1="592.0" x2="777.2" y2="587.7" stroke="#cf6ca0" stroke-width="0.5" />
<polygon points="772.7,593.0 780.2,588.7 780.2,601.0 772.7,605.3" fill="#e679b2" stroke="#bc6391" stroke-width="0.6" stroke-linejoin="round"/>
<polygon points="773.6,604.9 777.0,603.0 777.0,608.7 773.6,610.6" fill="#e4f4fa" stroke="#8cc6dc" stroke-width="0.6" />
<line x1="775.3" y1="605.5" x2="775.3" y2="608.7" stroke="#a8cfdf" stroke-width="0.7" />
<polygon points="791.3,604.1 798.8,599.8 801.8,600.7 801.8,613.0 794.3,617.3 791.3,617.9" fill="#a9dcec" stroke="none" stroke-width="0" />
<line x1="792.6" y1="605.3" x2="792.6" y2="616.9" stroke="#f2fbff" stroke-width="1.0" />
<line x1="791.5" y1="604.0" x2="798.8" y2="599.7" stroke="#cf6ca0" stroke-width="0.5" />
<polygon points="794.3,605.0 801.8,600.7 801.8,613.0 794.3,617.3" fill="#e679b2" stroke="#bc6391" stroke-width="0.6" stroke-linejoin="round"/>
<polygon points="795.2,616.9 798.6,615.0 798.6,620.7 795.2,622.6" fill="#e4f4fa" stroke="#8cc6dc" stroke-width="0.6" />
<line x1="796.9" y1="617.5" x2="796.9" y2="620.7" stroke="#a8cfdf" stroke-width="0.7" />
<polygon points="813.7,616.6 821.2,612.3 824.2,613.2 824.2,625.5 816.7,629.8 813.7,630.4" fill="#a9dcec" stroke="none" stroke-width="0" />
<line x1="815.0" y1="617.8" x2="815.0" y2="629.4" stroke="#f2fbff" stroke-width="1.0" />
<line x1="813.9" y1="616.5" x2="821.2" y2="612.2" stroke="#cf6ca0" stroke-width="0.5" />
<polygon points="816.7,617.5 824.2,613.2 824.2,625.5 816.7,629.8" fill="#e679b2" stroke="#bc6391" stroke-width="0.6" stroke-linejoin="round"/>
<polygon points="817.6,629.4 821.0,627.5 821.0,633.2 817.6,635.1" fill="#e4f4fa" stroke="#8cc6dc" stroke-width="0.6" />
<line x1="819.3" y1="630.0" x2="819.3" y2="633.2" stroke="#a8cfdf" stroke-width="0.7" />
<polygon points="835.5,629.1 843.0,624.8 846.0,625.7 846.0,638.0 838.5,642.3 835.5,642.9" fill="#a9dcec" stroke="none" stroke-width="0" />
<line x1="836.8" y1="630.3" x2="836.8" y2="641.9" stroke="#f2fbff" stroke-width="1.0" />
<line x1="835.7" y1="629.0" x2="843.0" y2="624.7" stroke="#cf6ca0" stroke-width="0.5" />
<polygon points="838.5,630.0 846.0,625.7 846.0,638.0 838.5,642.3" fill="#e679b2" stroke="#bc6391" stroke-width="0.6" stroke-linejoin="round"/>
<polygon points="839.4,641.9 842.8,640.0 842.8,645.7 839.4,647.6" fill="#e4f4fa" stroke="#8cc6dc" stroke-width="0.6" />
<line x1="841.1" y1="642.5" x2="841.1" y2="645.7" stroke="#a8cfdf" stroke-width="0.7" />
<line x1="723.0" y1="612.0" x2="818.0" y2="667.0" stroke="#e679b2" stroke-width="1" />
<line x1="715.2" y1="616.5" x2="732.5" y2="606.5" stroke="#e679b2" stroke-width="1" />
<line x1="810.2" y1="671.5" x2="827.5" y2="661.5" stroke="#e679b2" stroke-width="1" />
<polygon points="723.3,612.2 726.4,615.4 727.6,613.2" fill="#e679b2" stroke="none" stroke-width="0" />
<polygon points="817.7,666.8 814.6,663.6 813.4,665.8" fill="#e679b2" stroke="none" stroke-width="0" />
<polygon points="822.3,596.3 967.8,684.9 975.3,675.3 829.8,586.6" fill="#8662ab" stroke="#8662ab" stroke-width="3.0" stroke-linejoin="round"/>
<polygon points="821.3,576.3 829.3,571.7 832.3,572.6 832.3,587.0 824.3,591.6 821.3,592.2" fill="#a9dcec" stroke="none" stroke-width="0" />
<line x1="822.6" y1="577.5" x2="822.6" y2="591.2" stroke="#f2fbff" stroke-width="1.0" />
<line x1="821.5" y1="576.2" x2="829.3" y2="571.6" stroke="#785899" stroke-width="0.5" />
<polygon points="824.3,577.2 832.3,572.6 832.3,587.0 824.3,591.6" fill="#8662ab" stroke="#6d508c" stroke-width="0.6" stroke-linejoin="round"/>
<polygon points="825.3,591.2 828.7,589.3 828.7,595.0 825.3,596.9" fill="#e4f4fa" stroke="#8cc6dc" stroke-width="0.6" />
<line x1="827.0" y1="591.8" x2="827.0" y2="595.0" stroke="#a8cfdf" stroke-width="0.7" />
<polygon points="845.7,588.5 853.7,583.9 856.7,584.8 856.7,599.2 848.7,603.8 845.7,604.4" fill="#a9dcec" stroke="none" stroke-width="0" />
<line x1="847.0" y1="589.7" x2="847.0" y2="603.4" stroke="#f2fbff" stroke-width="1.0" />
<line x1="845.9" y1="588.4" x2="853.7" y2="583.8" stroke="#785899" stroke-width="0.5" />
<polygon points="848.7,589.4 856.7,584.8 856.7,599.2 848.7,603.8" fill="#8662ab" stroke="#6d508c" stroke-width="0.6" stroke-linejoin="round"/>
<polygon points="849.7,603.4 853.1,601.5 853.1,607.2 849.7,609.1" fill="#e4f4fa" stroke="#8cc6dc" stroke-width="0.6" />
<line x1="851.4" y1="604.0" x2="851.4" y2="607.2" stroke="#a8cfdf" stroke-width="0.7" />
<polygon points="916.8,630.8 924.8,626.2 927.8,627.1 927.8,641.5 919.8,646.1 916.8,646.7" fill="#a9dcec" stroke="none" stroke-width="0" />
<line x1="918.1" y1="632.0" x2="918.1" y2="645.7" stroke="#f2fbff" stroke-width="1.0" />
<line x1="917.0" y1="630.7" x2="924.8" y2="626.1" stroke="#785899" stroke-width="0.5" />
<polygon points="919.8,631.7 927.8,627.1 927.8,641.5 919.8,646.1" fill="#8662ab" stroke="#6d508c" stroke-width="0.6" stroke-linejoin="round"/>
<polygon points="920.8,645.7 924.2,643.8 924.2,649.5 920.8,651.4" fill="#e4f4fa" stroke="#8cc6dc" stroke-width="0.6" />
<line x1="922.5" y1="646.3" x2="922.5" y2="649.5" stroke="#a8cfdf" stroke-width="0.7" />
<polygon points="931.8,639.4 939.8,634.8 942.8,635.7 942.8,650.1 934.8,654.7 931.8,655.3" fill="#a9dcec" stroke="none" stroke-width="0" />
<line x1="933.1" y1="640.6" x2="933.1" y2="654.3" stroke="#f2fbff" stroke-width="1.0" />
<line x1="932.0" y1="639.3" x2="939.8" y2="634.7" stroke="#785899" stroke-width="0.5" />
<polygon points="934.8,640.3 942.8,635.7 942.8,650.1 934.8,654.7" fill="#8662ab" stroke="#6d508c" stroke-width="0.6" stroke-linejoin="round"/>
<polygon points="935.8,654.3 939.2,652.4 939.2,658.1 935.8,660.0" fill="#e4f4fa" stroke="#8cc6dc" stroke-width="0.6" />
<line x1="937.5" y1="654.9" x2="937.5" y2="658.1" stroke="#a8cfdf" stroke-width="0.7" />
<polygon points="946.9,648.8 954.9,644.2 957.9,645.1 957.9,659.5 949.9,664.1 946.9,664.7" fill="#a9dcec" stroke="none" stroke-width="0" />
<line x1="948.2" y1="650.0" x2="948.2" y2="663.7" stroke="#f2fbff" stroke-width="1.0" />
<line x1="947.1" y1="648.7" x2="954.9" y2="644.1" stroke="#785899" stroke-width="0.5" />
<polygon points="949.9,649.7 957.9,645.1 957.9,659.5 949.9,664.1" fill="#8662ab" stroke="#6d508c" stroke-width="0.6" stroke-linejoin="round"/>
<polygon points="950.9,663.7 954.3,661.8 954.3,667.5 950.9,669.4" fill="#e4f4fa" stroke="#8cc6dc" stroke-width="0.6" />
<line x1="952.6" y1="664.3" x2="952.6" y2="667.5" stroke="#a8cfdf" stroke-width="0.7" />
<polygon points="962.0,658.1 970.0,653.5 973.0,654.4 973.0,668.8 965.0,673.4 962.0,674.0" fill="#a9dcec" stroke="none" stroke-width="0" />
<line x1="963.3" y1="659.3" x2="963.3" y2="673.0" stroke="#f2fbff" stroke-width="1.0" />
<line x1="962.2" y1="658.0" x2="970.0" y2="653.4" stroke="#785899" stroke-width="0.5" />
<polygon points="965.0,659.0 973.0,654.4 973.0,668.8 965.0,673.4" fill="#8662ab" stroke="#6d508c" stroke-width="0.6" stroke-linejoin="round"/>
<polygon points="966.0,673.0 969.4,671.1 969.4,676.8 966.0,678.7" fill="#e4f4fa" stroke="#8cc6dc" stroke-width="0.6" />
<line x1="967.7" y1="673.6" x2="967.7" y2="676.8" stroke="#a8cfdf" stroke-width="0.7" />
<line x1="843.0" y1="567.0" x2="997.0" y2="660.0" stroke="#8662ab" stroke-width="1" />
<line x1="836.9" y1="570.5" x2="849.9" y2="563.0" stroke="#8662ab" stroke-width="1" />
<line x1="990.9" y1="663.5" x2="1003.9" y2="656.0" stroke="#8662ab" stroke-width="1" />
<polygon points="843.3,567.2 846.3,570.4 847.6,568.3" fill="#8662ab" stroke="none" stroke-width="0" />
<polygon points="996.7,659.8 993.7,656.6 992.4,658.7" fill="#8662ab" stroke="none" stroke-width="0" />
<polygon points="880.6,677.9 918.5,697.1 920.5,694.4 882.6,675.1" fill="#3aa9e0" stroke="#3aa9e0" stroke-width="2" stroke-linejoin="round"/>
<polygon points="879.2,657.8 886.4,653.7 890.4,654.8 890.4,669.6 883.2,673.8 879.2,674.1" fill="#d9d4c8" stroke="none" stroke-width="0" />
<line x1="880.5" y1="659.0" x2="880.5" y2="673.1" stroke="#f2fbff" stroke-width="1.0" />
<line x1="879.4" y1="657.7" x2="886.4" y2="653.6" stroke="#3498c9" stroke-width="0.5" />
<polygon points="883.2,659.0 890.4,654.8 890.4,669.6 883.2,673.8" fill="#3aa9e0" stroke="#2f8ab7" stroke-width="0.6" stroke-linejoin="round"/>
<polygon points="884.1,673.4 887.5,671.5 887.5,677.2 884.1,679.1" fill="#e4f4fa" stroke="#8cc6dc" stroke-width="0.6" />
<line x1="885.8" y1="674.0" x2="885.8" y2="677.2" stroke="#a8cfdf" stroke-width="0.7" />
<polygon points="895.0,665.7 902.2,661.6 906.2,662.7 906.2,677.5 899.0,681.7 895.0,682.0" fill="#d9d4c8" stroke="none" stroke-width="0" />
<line x1="896.3" y1="666.9" x2="896.3" y2="681.0" stroke="#f2fbff" stroke-width="1.0" />
<line x1="895.2" y1="665.6" x2="902.2" y2="661.5" stroke="#3498c9" stroke-width="0.5" />
<polygon points="899.0,666.9 906.2,662.7 906.2,677.5 899.0,681.7" fill="#3aa9e0" stroke="#2f8ab7" stroke-width="0.6" stroke-linejoin="round"/>
<polygon points="899.9,681.3 903.3,679.4 903.3,685.1 899.9,687.0" fill="#e4f4fa" stroke="#8cc6dc" stroke-width="0.6" />
<line x1="901.6" y1="681.9" x2="901.6" y2="685.1" stroke="#a8cfdf" stroke-width="0.7" />
<polygon points="910.0,674.3 917.2,670.2 921.2,671.3 921.2,686.1 914.0,690.3 910.0,690.6" fill="#d9d4c8" stroke="none" stroke-width="0" />
<line x1="911.3" y1="675.5" x2="911.3" y2="689.6" stroke="#f2fbff" stroke-width="1.0" />
<line x1="910.2" y1="674.2" x2="917.2" y2="670.1" stroke="#3498c9" stroke-width="0.5" />
<polygon points="914.0,675.5 921.2,671.3 921.2,686.1 914.0,690.3" fill="#3aa9e0" stroke="#2f8ab7" stroke-width="0.6" stroke-linejoin="round"/>
<polygon points="914.9,689.9 918.3,688.0 918.3,693.7 914.9,695.6" fill="#e4f4fa" stroke="#8cc6dc" stroke-width="0.6" />
<line x1="916.6" y1="690.5" x2="916.6" y2="693.7" stroke="#a8cfdf" stroke-width="0.7" />
<line x1="860.0" y1="694.0" x2="892.0" y2="714.0" stroke="#3aa9e0" stroke-width="1" />
<line x1="853.1" y1="698.0" x2="868.7" y2="689.0" stroke="#3aa9e0" stroke-width="1" />
<line x1="885.1" y1="718.0" x2="902.4" y2="708.0" stroke="#3aa9e0" stroke-width="1" />
<polygon points="860.3,694.2 863.2,697.5 864.6,695.4" fill="#3aa9e0" stroke="none" stroke-width="0" />
<polygon points="891.7,713.8 888.8,710.5 887.4,712.6" fill="#3aa9e0" stroke="none" stroke-width="0" />
<polygon points="996.7,699.4 1041.8,725.2 1046.2,719.5 1001.0,693.7" fill="#e21b8d" stroke="#e21b8d" stroke-width="3.0" stroke-linejoin="round"/>
<polygon points="997.4,680.9 1005.6,676.2 1008.6,677.1 1008.6,691.4 1000.4,696.1 997.4,696.7" fill="#a9dcec" stroke="none" stroke-width="0" />
<line x1="998.7" y1="682.1" x2="998.7" y2="695.7" stroke="#f2fbff" stroke-width="1.0" />
<line x1="997.6" y1="680.8" x2="1005.6" y2="676.1" stroke="#cb187e" stroke-width="0.5" />
<polygon points="1000.4,681.8 1008.6,677.1 1008.6,691.4 1000.4,696.1" fill="#e21b8d" stroke="#b91673" stroke-width="0.6" stroke-linejoin="round"/>
<polygon points="1001.4,695.7 1004.8,693.8 1004.8,699.5 1001.4,701.4" fill="#e4f4fa" stroke="#8cc6dc" stroke-width="0.6" />
<line x1="1003.1" y1="696.3" x2="1003.1" y2="699.5" stroke="#a8cfdf" stroke-width="0.7" />
<polygon points="1009.5,685.5 1017.7,680.8 1020.7,681.7 1020.7,696.0 1012.5,700.7 1009.5,701.3" fill="#a9dcec" stroke="none" stroke-width="0" />
<line x1="1010.8" y1="686.7" x2="1010.8" y2="700.3" stroke="#f2fbff" stroke-width="1.0" />
<line x1="1009.7" y1="685.4" x2="1017.7" y2="680.7" stroke="#cb187e" stroke-width="0.5" />
<polygon points="1012.5,686.4 1020.7,681.7 1020.7,696.0 1012.5,700.7" fill="#e21b8d" stroke="#b91673" stroke-width="0.6" stroke-linejoin="round"/>
<polygon points="1013.5,700.3 1016.9,698.4 1016.9,704.1 1013.5,706.0" fill="#e4f4fa" stroke="#8cc6dc" stroke-width="0.6" />
<line x1="1015.2" y1="700.9" x2="1015.2" y2="704.1" stroke="#a8cfdf" stroke-width="0.7" />
<polygon points="1021.3,690.9 1029.5,686.2 1032.5,687.1 1032.5,701.4 1024.3,706.1 1021.3,706.7" fill="#a9dcec" stroke="none" stroke-width="0" />
<line x1="1022.6" y1="692.1" x2="1022.6" y2="705.7" stroke="#f2fbff" stroke-width="1.0" />
<line x1="1021.5" y1="690.8" x2="1029.5" y2="686.1" stroke="#cb187e" stroke-width="0.5" />
<polygon points="1024.3,691.8 1032.5,687.1 1032.5,701.4 1024.3,706.1" fill="#e21b8d" stroke="#b91673" stroke-width="0.6" stroke-linejoin="round"/>
<polygon points="1025.3,705.7 1028.7,703.8 1028.7,709.5 1025.3,711.4" fill="#e4f4fa" stroke="#8cc6dc" stroke-width="0.6" />
<line x1="1027.0" y1="706.3" x2="1027.0" y2="709.5" stroke="#a8cfdf" stroke-width="0.7" />
<polygon points="1033.4,697.0 1041.6,692.3 1044.6,693.2 1044.6,707.5 1036.4,712.2 1033.4,712.8" fill="#a9dcec" stroke="none" stroke-width="0" />
<line x1="1034.7" y1="698.2" x2="1034.7" y2="711.8" stroke="#f2fbff" stroke-width="1.0" />
<line x1="1033.6" y1="696.9" x2="1041.6" y2="692.2" stroke="#cb187e" stroke-width="0.5" />
<polygon points="1036.4,697.9 1044.6,693.2 1044.6,707.5 1036.4,712.2" fill="#e21b8d" stroke="#b91673" stroke-width="0.6" stroke-linejoin="round"/>
<polygon points="1037.4,711.8 1040.8,709.9 1040.8,715.6 1037.4,717.5" fill="#e4f4fa" stroke="#8cc6dc" stroke-width="0.6" />
<line x1="1039.1" y1="712.4" x2="1039.1" y2="715.6" stroke="#a8cfdf" stroke-width="0.7" />
<line x1="1017.0" y1="668.0" x2="1059.0" y2="693.0" stroke="#e21b8d" stroke-width="1.4" />
<line x1="1011.8" y1="671.0" x2="1022.2" y2="665.0" stroke="#e21b8d" stroke-width="1.4" />
<line x1="1053.8" y1="696.0" x2="1064.2" y2="690.0" stroke="#e21b8d" stroke-width="1.4" />
<polygon points="970.9,727.6 1010.2,748.9 1013.0,745.2 973.7,723.9" fill="#a9d586" stroke="#a9d586" stroke-width="3.0" stroke-linejoin="round"/>
<polygon points="975.0,710.8 983.6,705.9 986.6,706.7 986.6,722.2 978.0,727.2 975.0,727.8" fill="#a9dcec" stroke="none" stroke-width="0" />
<line x1="976.3" y1="712.0" x2="976.3" y2="726.8" stroke="#f2fbff" stroke-width="1.0" />
<line x1="975.2" y1="710.7" x2="983.6" y2="705.8" stroke="#98bf78" stroke-width="0.5" />
<polygon points="978.0,711.7 986.6,706.7 986.6,722.2 978.0,727.2" fill="#a9d586" stroke="#8aae6d" stroke-width="0.6" stroke-linejoin="round"/>
<polygon points="979.0,726.8 982.4,724.9 982.4,730.6 979.0,732.5" fill="#e4f4fa" stroke="#8cc6dc" stroke-width="0.6" />
<line x1="980.7" y1="727.4" x2="980.7" y2="730.6" stroke="#a8cfdf" stroke-width="0.7" />
<polygon points="998.0,721.6 1006.6,716.7 1009.6,717.5 1009.6,733.0 1001.0,738.0 998.0,738.6" fill="#a9dcec" stroke="none" stroke-width="0" />
<line x1="999.3" y1="722.8" x2="999.3" y2="737.6" stroke="#f2fbff" stroke-width="1.0" />
<line x1="998.2" y1="721.5" x2="1006.6" y2="716.6" stroke="#98bf78" stroke-width="0.5" />
<polygon points="1001.0,722.5 1009.6,717.5 1009.6,733.0 1001.0,738.0" fill="#a9d586" stroke="#8aae6d" stroke-width="0.6" stroke-linejoin="round"/>
<polygon points="1002.0,737.6 1005.4,735.7 1005.4,741.4 1002.0,743.3" fill="#e4f4fa" stroke="#8cc6dc" stroke-width="0.6" />
<line x1="1003.7" y1="738.2" x2="1003.7" y2="741.4" stroke="#a8cfdf" stroke-width="0.7" />
<line x1="952.0" y1="740.0" x2="990.0" y2="765.0" stroke="#a9d586" stroke-width="1" />
<line x1="945.9" y1="743.5" x2="958.1" y2="736.5" stroke="#a9d586" stroke-width="1" />
<line x1="983.9" y1="768.5" x2="996.1" y2="761.5" stroke="#a9d586" stroke-width="1" />
<polygon points="952.3,740.2 955.2,743.6 956.5,741.5" fill="#a9d586" stroke="none" stroke-width="0" />
<polygon points="989.7,764.8 986.8,761.4 985.5,763.5" fill="#a9d586" stroke="none" stroke-width="0" />
<polygon points="1072.1,739.4 1110.7,762.5 1115.4,756.4 1076.9,733.3" fill="#0f5a2f" stroke="#0f5a2f" stroke-width="3.0" stroke-linejoin="round"/>
<polygon points="1071.9,720.1 1080.5,715.2 1083.5,716.0 1083.5,731.5 1074.9,736.5 1071.9,737.1" fill="#a9dcec" stroke="none" stroke-width="0" />
<line x1="1073.2" y1="721.3" x2="1073.2" y2="736.1" stroke="#f2fbff" stroke-width="1.0" />
<line x1="1072.1" y1="720.0" x2="1080.5" y2="715.1" stroke="#0d512a" stroke-width="0.5" />
<polygon points="1074.9,721.0 1083.5,716.0 1083.5,731.5 1074.9,736.5" fill="#0f5a2f" stroke="#0c4926" stroke-width="0.6" stroke-linejoin="round"/>
<polygon points="1075.9,736.1 1079.3,734.2 1079.3,739.9 1075.9,741.8" fill="#e4f4fa" stroke="#8cc6dc" stroke-width="0.6" />
<line x1="1077.6" y1="736.7" x2="1077.6" y2="739.9" stroke="#a8cfdf" stroke-width="0.7" />
<polygon points="1082.6,726.6 1091.2,721.7 1094.2,722.5 1094.2,738.0 1085.6,743.0 1082.6,743.6" fill="#a9dcec" stroke="none" stroke-width="0" />
<line x1="1083.9" y1="727.8" x2="1083.9" y2="742.6" stroke="#f2fbff" stroke-width="1.0" />
<line x1="1082.8" y1="726.5" x2="1091.2" y2="721.6" stroke="#0d512a" stroke-width="0.5" />
<polygon points="1085.6,727.5 1094.2,722.5 1094.2,738.0 1085.6,743.0" fill="#0f5a2f" stroke="#0c4926" stroke-width="0.6" stroke-linejoin="round"/>
<polygon points="1086.6,742.6 1090.0,740.7 1090.0,746.4 1086.6,748.3" fill="#e4f4fa" stroke="#8cc6dc" stroke-width="0.6" />
<line x1="1088.3" y1="743.2" x2="1088.3" y2="746.4" stroke="#a8cfdf" stroke-width="0.7" />
<polygon points="1094.1,733.0 1102.7,728.1 1105.7,728.9 1105.7,744.4 1097.1,749.4 1094.1,750.0" fill="#a9dcec" stroke="none" stroke-width="0" />
<line x1="1095.4" y1="734.2" x2="1095.4" y2="749.0" stroke="#f2fbff" stroke-width="1.0" />
<line x1="1094.3" y1="732.9" x2="1102.7" y2="728.0" stroke="#0d512a" stroke-width="0.5" />
<polygon points="1097.1,733.9 1105.7,728.9 1105.7,744.4 1097.1,749.4" fill="#0f5a2f" stroke="#0c4926" stroke-width="0.6" stroke-linejoin="round"/>
<polygon points="1098.1,749.0 1101.5,747.1 1101.5,752.8 1098.1,754.7" fill="#e4f4fa" stroke="#8cc6dc" stroke-width="0.6" />
<line x1="1099.8" y1="749.6" x2="1099.8" y2="752.8" stroke="#a8cfdf" stroke-width="0.7" />
<polygon points="1104.9,740.2 1113.5,735.3 1116.5,736.1 1116.5,751.6 1107.9,756.6 1104.9,757.2" fill="#a9dcec" stroke="none" stroke-width="0" />
<line x1="1106.2" y1="741.4" x2="1106.2" y2="756.2" stroke="#f2fbff" stroke-width="1.0" />
<line x1="1105.1" y1="740.1" x2="1113.5" y2="735.2" stroke="#0d512a" stroke-width="0.5" />
<polygon points="1107.9,741.1 1116.5,736.1 1116.5,751.6 1107.9,756.6" fill="#0f5a2f" stroke="#0c4926" stroke-width="0.6" stroke-linejoin="round"/>
<polygon points="1108.9,756.2 1112.3,754.3 1112.3,760.0 1108.9,761.9" fill="#e4f4fa" stroke="#8cc6dc" stroke-width="0.6" />
<line x1="1110.6" y1="756.8" x2="1110.6" y2="760.0" stroke="#a8cfdf" stroke-width="0.7" />
<line x1="1088.0" y1="713.0" x2="1128.0" y2="738.0" stroke="#0f5a2f" stroke-width="1.4" />
<line x1="1082.8" y1="716.0" x2="1093.2" y2="710.0" stroke="#0f5a2f" stroke-width="1.4" />
<line x1="1122.8" y1="741.0" x2="1133.2" y2="735.0" stroke="#0f5a2f" stroke-width="1.4" />
<polygon points="1128.0,772.5 1163.3,792.7 1167.6,787.1 1132.2,766.9" fill="#7a1430" stroke="#7a1430" stroke-width="3.0" stroke-linejoin="round"/>
<polygon points="1129.6,752.8 1137.6,748.2 1140.6,749.1 1140.6,764.6 1132.6,769.2 1129.6,769.8" fill="#a9dcec" stroke="none" stroke-width="0" />
<line x1="1130.9" y1="754.0" x2="1130.9" y2="768.8" stroke="#f2fbff" stroke-width="1.0" />
<line x1="1129.8" y1="752.7" x2="1137.6" y2="748.1" stroke="#6d122b" stroke-width="0.5" />
<polygon points="1132.6,753.7 1140.6,749.1 1140.6,764.6 1132.6,769.2" fill="#7a1430" stroke="#641027" stroke-width="0.6" stroke-linejoin="round"/>
<polygon points="1133.6,768.8 1137.0,766.9 1137.0,772.6 1133.6,774.5" fill="#e4f4fa" stroke="#8cc6dc" stroke-width="0.6" />
<line x1="1135.3" y1="769.4" x2="1135.3" y2="772.6" stroke="#a8cfdf" stroke-width="0.7" />
<polygon points="1141.8,759.2 1149.8,754.6 1152.8,755.5 1152.8,771.0 1144.8,775.6 1141.8,776.2" fill="#a9dcec" stroke="none" stroke-width="0" />
<line x1="1143.1" y1="760.4" x2="1143.1" y2="775.2" stroke="#f2fbff" stroke-width="1.0" />
<line x1="1142.0" y1="759.1" x2="1149.8" y2="754.5" stroke="#6d122b" stroke-width="0.5" />
<polygon points="1144.8,760.1 1152.8,755.5 1152.8,771.0 1144.8,775.6" fill="#7a1430" stroke="#641027" stroke-width="0.6" stroke-linejoin="round"/>
<polygon points="1145.8,775.2 1149.2,773.3 1149.2,779.0 1145.8,780.9" fill="#e4f4fa" stroke="#8cc6dc" stroke-width="0.6" />
<line x1="1147.5" y1="775.8" x2="1147.5" y2="779.0" stroke="#a8cfdf" stroke-width="0.7" />
<polygon points="1156.8,767.8 1164.8,763.2 1167.8,764.1 1167.8,779.6 1159.8,784.2 1156.8,784.8" fill="#a9dcec" stroke="none" stroke-width="0" />
<line x1="1158.1" y1="769.0" x2="1158.1" y2="783.8" stroke="#f2fbff" stroke-width="1.0" />
<line x1="1157.0" y1="767.7" x2="1164.8" y2="763.1" stroke="#5f0e39" stroke-width="0.5" />
<polygon points="1159.8,768.7 1167.8,764.1 1167.8,779.6 1159.8,784.2" fill="#6a1040" stroke="#560d34" stroke-width="0.6" stroke-linejoin="round"/>
<polygon points="1160.8,783.8 1164.2,781.9 1164.2,787.6 1160.8,789.5" fill="#e4f4fa" stroke="#8cc6dc" stroke-width="0.6" />
<line x1="1162.5" y1="784.4" x2="1162.5" y2="787.6" stroke="#a8cfdf" stroke-width="0.7" />
<line x1="1144.0" y1="746.5" x2="1187.0" y2="771.0" stroke="#7a1430" stroke-width="1.4" />
<line x1="1138.8" y1="749.5" x2="1149.2" y2="743.5" stroke="#7a1430" stroke-width="1.4" />
<line x1="1181.8" y1="774.0" x2="1192.2" y2="768.0" stroke="#7a1430" stroke-width="1.4" />
<rect x="1192.2" y="776.8" width="16.3" height="11.2" fill="#0f5a2f"/>
<polygon points="1050.7,776.1 1128.2,822.6 1133.7,815.6 1056.1,769.1" fill="#f9977f" stroke="#f9977f" stroke-width="3.0" stroke-linejoin="round"/>
<polygon points="1053.9,756.7 1061.9,752.1 1064.9,753.0 1064.9,768.8 1056.9,773.4 1053.9,774.0" fill="#a9dcec" stroke="none" stroke-width="0" />
<line x1="1055.2" y1="757.9" x2="1055.2" y2="773.0" stroke="#f2fbff" stroke-width="1.0" />
<line x1="1054.1" y1="756.6" x2="1061.9" y2="752.0" stroke="#e08772" stroke-width="0.5" />
<polygon points="1056.9,757.6 1064.9,753.0 1064.9,768.8 1056.9,773.4" fill="#f9977f" stroke="#cc7b68" stroke-width="0.6" stroke-linejoin="round"/>
<polygon points="1057.9,773.0 1061.3,771.1 1061.3,776.8 1057.9,778.7" fill="#e4f4fa" stroke="#8cc6dc" stroke-width="0.6" />
<line x1="1059.6" y1="773.6" x2="1059.6" y2="776.8" stroke="#a8cfdf" stroke-width="0.7" />
<polygon points="1066.8,763.9 1074.8,759.3 1077.8,760.2 1077.8,776.0 1069.8,780.6 1066.8,781.2" fill="#a9dcec" stroke="none" stroke-width="0" />
<line x1="1068.1" y1="765.1" x2="1068.1" y2="780.2" stroke="#f2fbff" stroke-width="1.0" />
<line x1="1067.0" y1="763.8" x2="1074.8" y2="759.2" stroke="#e08772" stroke-width="0.5" />
<polygon points="1069.8,764.8 1077.8,760.2 1077.8,776.0 1069.8,780.6" fill="#f9977f" stroke="#cc7b68" stroke-width="0.6" stroke-linejoin="round"/>
<polygon points="1070.8,780.2 1074.2,778.3 1074.2,784.0 1070.8,785.9" fill="#e4f4fa" stroke="#8cc6dc" stroke-width="0.6" />
<line x1="1072.5" y1="780.8" x2="1072.5" y2="784.0" stroke="#a8cfdf" stroke-width="0.7" />
<polygon points="1079.0,771.8 1087.0,767.2 1090.0,768.1 1090.0,783.9 1082.0,788.5 1079.0,789.1" fill="#a9dcec" stroke="none" stroke-width="0" />
<line x1="1080.3" y1="773.0" x2="1080.3" y2="788.1" stroke="#f2fbff" stroke-width="1.0" />
<line x1="1079.2" y1="771.7" x2="1087.0" y2="767.1" stroke="#e08772" stroke-width="0.5" />
<polygon points="1082.0,772.7 1090.0,768.1 1090.0,783.9 1082.0,788.5" fill="#f9977f" stroke="#cc7b68" stroke-width="0.6" stroke-linejoin="round"/>
<polygon points="1083.0,788.1 1086.4,786.2 1086.4,791.9 1083.0,793.8" fill="#e4f4fa" stroke="#8cc6dc" stroke-width="0.6" />
<line x1="1084.7" y1="788.7" x2="1084.7" y2="791.9" stroke="#a8cfdf" stroke-width="0.7" />
<polygon points="1092.7,780.4 1100.7,775.8 1103.7,776.7 1103.7,792.5 1095.7,797.1 1092.7,797.7" fill="#a9dcec" stroke="none" stroke-width="0" />
<line x1="1094.0" y1="781.6" x2="1094.0" y2="796.7" stroke="#f2fbff" stroke-width="1.0" />
<line x1="1092.9" y1="780.3" x2="1100.7" y2="775.7" stroke="#e08772" stroke-width="0.5" />
<polygon points="1095.7,781.3 1103.7,776.7 1103.7,792.5 1095.7,797.1" fill="#f9977f" stroke="#cc7b68" stroke-width="0.6" stroke-linejoin="round"/>
<polygon points="1096.7,796.7 1100.1,794.8 1100.1,800.5 1096.7,802.4" fill="#e4f4fa" stroke="#8cc6dc" stroke-width="0.6" />
<line x1="1098.4" y1="797.3" x2="1098.4" y2="800.5" stroke="#a8cfdf" stroke-width="0.7" />
<polygon points="1104.9,787.6 1112.9,783.0 1115.9,783.9 1115.9,799.7 1107.9,804.3 1104.9,804.9" fill="#a9dcec" stroke="none" stroke-width="0" />
<line x1="1106.2" y1="788.8" x2="1106.2" y2="803.9" stroke="#f2fbff" stroke-width="1.0" />
<line x1="1105.1" y1="787.5" x2="1112.9" y2="782.9" stroke="#e08772" stroke-width="0.5" />
<polygon points="1107.9,788.5 1115.9,783.9 1115.9,799.7 1107.9,804.3" fill="#f9977f" stroke="#cc7b68" stroke-width="0.6" stroke-linejoin="round"/>
<polygon points="1108.9,803.9 1112.3,802.0 1112.3,807.7 1108.9,809.6" fill="#e4f4fa" stroke="#8cc6dc" stroke-width="0.6" />
<line x1="1110.6" y1="804.5" x2="1110.6" y2="807.7" stroke="#a8cfdf" stroke-width="0.7" />
<polygon points="1118.5,795.4 1126.5,790.8 1129.5,791.7 1129.5,807.5 1121.5,812.1 1118.5,812.7" fill="#a9dcec" stroke="none" stroke-width="0" />
<line x1="1119.8" y1="796.6" x2="1119.8" y2="811.7" stroke="#f2fbff" stroke-width="1.0" />
<line x1="1118.7" y1="795.3" x2="1126.5" y2="790.7" stroke="#e08772" stroke-width="0.5" />
<polygon points="1121.5,796.3 1129.5,791.7 1129.5,807.5 1121.5,812.1" fill="#f9977f" stroke="#cc7b68" stroke-width="0.6" stroke-linejoin="round"/>
<polygon points="1122.5,811.7 1125.9,809.8 1125.9,815.5 1122.5,817.4" fill="#e4f4fa" stroke="#8cc6dc" stroke-width="0.6" />
<line x1="1124.2" y1="812.3" x2="1124.2" y2="815.5" stroke="#a8cfdf" stroke-width="0.7" />
<line x1="1036.5" y1="784.5" x2="1120.4" y2="832.6" stroke="#f9977f" stroke-width="1" />
<line x1="1030.4" y1="788.0" x2="1042.6" y2="781.0" stroke="#f9977f" stroke-width="1" />
<line x1="1114.3" y1="836.1" x2="1126.5" y2="829.1" stroke="#f9977f" stroke-width="1" />
<polygon points="1036.8,784.6 1039.9,787.9 1041.1,785.7" fill="#f9977f" stroke="none" stroke-width="0" />
<polygon points="1120.1,832.5 1117.0,829.2 1115.8,831.4" fill="#f9977f" stroke="none" stroke-width="0" />
<polygon points="195.3,236.5 196.2,240.3 351.3,330.2 356.8,324.2 353.0,321.5 258.8,268.2 256.4,269.0 242.1,255.2 203.6,233.8 199.0,232.8" fill="#5a3f23" stroke="#5a3f23" stroke-width="2" stroke-linejoin="round"/>
<polygon points="203.5,217.9 205.3,218.3 205.3,231.5 203.5,232.5" fill="#a9dcec" stroke="none" stroke-width="0" />
<polygon points="196.1,218.5 204.0,217.9 204.0,232.5 196.1,232.5" fill="#5a3f23" stroke="none" stroke-width="0" />
<polygon points="199.1,232.5 202.3,232.5 202.3,238.0 199.1,238.0" fill="#a9dcec" stroke="none" stroke-width="0" />
<line x1="200.7" y1="233.0" x2="200.7" y2="237.5" stroke="#8fb8cc" stroke-width="0.6" />
<polygon points="272.7,253.9 274.5,254.3 274.5,269.5 272.7,270.5" fill="#a9dcec" stroke="none" stroke-width="0" />
<polygon points="264.5,254.5 273.2,253.9 273.2,270.5 264.5,270.5" fill="#5a3f23" stroke="none" stroke-width="0" />
<polygon points="267.5,270.5 270.7,270.5 270.7,276.0 267.5,276.0" fill="#a9dcec" stroke="none" stroke-width="0" />
<line x1="269.1" y1="271.0" x2="269.1" y2="275.5" stroke="#8fb8cc" stroke-width="0.6" />
<polygon points="289.5,263.0 291.3,263.4 291.3,278.0 289.5,279.0" fill="#a9dcec" stroke="none" stroke-width="0" />
<polygon points="281.5,263.6 290.0,263.0 290.0,279.0 281.5,279.0" fill="#5a3f23" stroke="none" stroke-width="0" />
<polygon points="284.5,279.0 287.7,279.0 287.7,284.5 284.5,284.5" fill="#a9dcec" stroke="none" stroke-width="0" />
<line x1="286.1" y1="279.5" x2="286.1" y2="284.0" stroke="#8fb8cc" stroke-width="0.6" />
<polygon points="303.1,271.6 304.9,272.0 304.9,286.5 303.1,287.5" fill="#a9dcec" stroke="none" stroke-width="0" />
<polygon points="295.2,272.2 303.6,271.6 303.6,287.5 295.2,287.5" fill="#5a3f23" stroke="none" stroke-width="0" />
<polygon points="298.2,287.5 301.4,287.5 301.4,293.0 298.2,293.0" fill="#a9dcec" stroke="none" stroke-width="0" />
<line x1="299.8" y1="288.0" x2="299.8" y2="292.5" stroke="#8fb8cc" stroke-width="0.6" />
<polygon points="318.9,291.3 326.1,287.1 329.6,288.1 329.6,303.1 322.4,307.3 318.9,307.8" fill="#a9dcec" stroke="none" stroke-width="0" />
<line x1="320.2" y1="292.5" x2="320.2" y2="306.8" stroke="#f2fbff" stroke-width="1.0" />
<line x1="319.1" y1="291.2" x2="326.1" y2="287.0" stroke="#51381f" stroke-width="0.5" />
<polygon points="322.4,292.3 329.6,288.1 329.6,303.1 322.4,307.3" fill="#5a3f23" stroke="#49331c" stroke-width="0.6" stroke-linejoin="round"/>
<polygon points="323.3,306.9 326.7,305.0 326.7,310.7 323.3,312.6" fill="#e4f4fa" stroke="#8cc6dc" stroke-width="0.6" />
<line x1="325.0" y1="307.5" x2="325.0" y2="310.7" stroke="#a8cfdf" stroke-width="0.7" />
<polygon points="342.6,306.4 349.8,302.2 353.3,303.2 353.3,317.7 346.1,321.9 342.6,322.4" fill="#a9dcec" stroke="none" stroke-width="0" />
<line x1="343.9" y1="307.6" x2="343.9" y2="321.4" stroke="#f2fbff" stroke-width="1.0" />
<line x1="342.8" y1="306.3" x2="349.8" y2="302.1" stroke="#51381f" stroke-width="0.5" />
<polygon points="346.1,307.4 353.3,303.2 353.3,317.7 346.1,321.9" fill="#5a3f23" stroke="#49331c" stroke-width="0.6" stroke-linejoin="round"/>
<polygon points="347.0,321.5 350.4,319.6 350.4,325.3 347.0,327.2" fill="#e4f4fa" stroke="#8cc6dc" stroke-width="0.6" />
<line x1="348.7" y1="322.1" x2="348.7" y2="325.3" stroke="#a8cfdf" stroke-width="0.7" />
<line x1="210.0" y1="204.0" x2="380.0" y2="305.2" stroke="#4a3520" stroke-width="1.1" />
<line x1="202.2" y1="208.5" x2="218.7" y2="199.0" stroke="#4a3520" stroke-width="1.1" />
<line x1="372.2" y1="309.7" x2="389.5" y2="299.7" stroke="#4a3520" stroke-width="1.1" />
<polygon points="210.3,204.2 213.3,207.4 214.6,205.3" fill="#4a3520" stroke="none" stroke-width="0" />
<polygon points="379.7,305.0 376.7,301.8 375.4,303.9" fill="#4a3520" stroke="none" stroke-width="0" />
<polygon points="165.3,276.1 215.0,303.6 288.6,347.9 293.6,342.9 290.7,338.6 284.6,334.3 274.3,332.9 273.6,328.6 267.5,324.3 257.1,322.1 256.4,318.9 242.5,310.0 231.8,308.6 230.4,303.6 215.0,294.3 170.3,268.2 166.0,268.5 164.6,272.5" fill="#f6a81f" stroke="#f6a81f" stroke-width="1.2" stroke-linejoin="round"/>
<polygon points="288.8,321.5 343.1,351.1 345.4,348.2 291.0,318.5" fill="#f6a81f" stroke="#f6a81f" stroke-width="3.0" stroke-linejoin="round"/>
<polygon points="163.2,251.7 172.6,252.7 172.6,266.5 163.2,265.5" fill="#ffffff" stroke="none" stroke-width="0" />
<line x1="164.2" y1="252.7" x2="164.2" y2="265.5" stroke="#d5eef6" stroke-width="1.6" />
<path d="M163.2,251.7 L172.6,252.7 L172.6,265.5" stroke="#f6a81f" stroke-width="1" fill="none" />
<polygon points="166.4,266.0 169.8,266.0 169.8,273.0 166.4,273.0" fill="#a9dcec" stroke="none" stroke-width="0" />
<line x1="168.1" y1="266.5" x2="168.1" y2="272.5" stroke="#8fb8cc" stroke-width="0.6" />
<polygon points="232.9,293.6 242.5,294.6 242.5,309.3 232.9,308.3" fill="#ffffff" stroke="none" stroke-width="0" />
<line x1="233.9" y1="294.6" x2="233.9" y2="308.3" stroke="#d5eef6" stroke-width="1.6" />
<path d="M232.9,293.6 L242.5,294.6 L242.5,308.3" stroke="#f6a81f" stroke-width="1" fill="none" />
<polygon points="236.1,308.8 239.5,308.8 239.5,315.8 236.1,315.8" fill="#a9dcec" stroke="none" stroke-width="0" />
<line x1="237.8" y1="309.3" x2="237.8" y2="315.3" stroke="#8fb8cc" stroke-width="0.6" />
<polygon points="257.9,307.9 267.5,308.9 267.5,322.9 257.9,321.9" fill="#ffffff" stroke="none" stroke-width="0" />
<line x1="258.9" y1="308.9" x2="258.9" y2="321.9" stroke="#d5eef6" stroke-width="1.6" />
<path d="M257.9,307.9 L267.5,308.9 L267.5,321.9" stroke="#f6a81f" stroke-width="1" fill="none" />
<polygon points="261.1,322.4 264.5,322.4 264.5,329.4 261.1,329.4" fill="#a9dcec" stroke="none" stroke-width="0" />
<line x1="262.8" y1="322.9" x2="262.8" y2="328.9" stroke="#8fb8cc" stroke-width="0.6" />
<polygon points="275.0,317.5 284.6,318.5 284.6,333.2 275.0,332.2" fill="#ffffff" stroke="none" stroke-width="0" />
<line x1="276.0" y1="318.5" x2="276.0" y2="332.2" stroke="#d5eef6" stroke-width="1.6" />
<path d="M275.0,317.5 L284.6,318.5 L284.6,332.2" stroke="#f6a81f" stroke-width="1" fill="none" />
<polygon points="278.2,332.7 281.6,332.7 281.6,339.7 278.2,339.7" fill="#a9dcec" stroke="none" stroke-width="0" />
<line x1="279.9" y1="333.2" x2="279.9" y2="339.2" stroke="#8fb8cc" stroke-width="0.6" />
<polygon points="297.6,308.6 304.4,304.7 307.9,305.7 307.9,320.3 301.1,324.2 297.6,324.7" fill="#a9dcec" stroke="none" stroke-width="0" />
<line x1="298.9" y1="309.8" x2="298.9" y2="323.7" stroke="#f2fbff" stroke-width="1.0" />
<line x1="297.8" y1="308.5" x2="304.4" y2="304.6" stroke="#dd971b" stroke-width="0.5" />
<polygon points="301.1,309.6 307.9,305.7 307.9,320.3 301.1,324.2" fill="#f6a81f" stroke="#c98919" stroke-width="0.6" stroke-linejoin="round"/>
<polygon points="301.9,323.8 305.3,321.9 305.3,327.6 301.9,329.5" fill="#e4f4fa" stroke="#8cc6dc" stroke-width="0.6" />
<line x1="303.6" y1="324.4" x2="303.6" y2="327.6" stroke="#a8cfdf" stroke-width="0.7" />
<polygon points="322.7,323.4 329.2,319.7 333.2,320.8 333.2,335.8 326.7,339.6 322.7,339.9" fill="#a9dcec" stroke="none" stroke-width="0" />
<line x1="324.0" y1="324.6" x2="324.0" y2="338.9" stroke="#f2fbff" stroke-width="1.0" />
<line x1="322.9" y1="323.3" x2="329.2" y2="319.6" stroke="#dd971b" stroke-width="0.5" />
<polygon points="326.7,324.6 333.2,320.8 333.2,335.8 326.7,339.6" fill="#f6a81f" stroke="#c98919" stroke-width="0.6" stroke-linejoin="round"/>
<polygon points="327.5,339.2 330.9,337.3 330.9,343.0 327.5,344.9" fill="#e4f4fa" stroke="#8cc6dc" stroke-width="0.6" />
<line x1="329.2" y1="339.8" x2="329.2" y2="343.0" stroke="#a8cfdf" stroke-width="0.7" />
<line x1="150.0" y1="278.5" x2="308.8" y2="369.1" stroke="#f6a81f" stroke-width="1.2" />
<line x1="143.1" y1="282.5" x2="153.5" y2="276.5" stroke="#f6a81f" stroke-width="1.2" />
<line x1="304.5" y1="371.6" x2="314.0" y2="366.1" stroke="#f6a81f" stroke-width="1.2" />
<polygon points="105.5,226.5 109.5,226.5 109.5,237.5 105.5,237.5" fill="#d9eff7" stroke="#7fb9d3" stroke-width="0.6" />
<line x1="107.5" y1="227.0" x2="107.5" y2="237.0" stroke="#9fd0e3" stroke-width="0.7" />
<polygon points="130.0,239.0 134.2,239.0 134.2,250.5 130.0,250.5" fill="#d9eff7" stroke="#7fb9d3" stroke-width="0.6" />
<line x1="132.1" y1="239.5" x2="132.1" y2="250.0" stroke="#9fd0e3" stroke-width="0.7" />
<polygon points="155.0,226.0 159.0,226.0 159.0,237.0 155.0,237.0" fill="#d9eff7" stroke="#7fb9d3" stroke-width="0.6" />
<line x1="157.0" y1="226.5" x2="157.0" y2="236.5" stroke="#9fd0e3" stroke-width="0.7" />
<polygon points="183.0,209.5 186.8,209.5 186.8,220.0 183.0,220.0" fill="#d9eff7" stroke="#7fb9d3" stroke-width="0.6" />
<line x1="184.9" y1="210.0" x2="184.9" y2="219.5" stroke="#9fd0e3" stroke-width="0.7" />
<polygon points="104.0,220.4 160.0,188.1 186.5,203.9 132.0,236.2" fill="#ffffff" stroke="none" stroke-width="0" />
<line x1="106.0" y1="222.8" x2="132.6" y2="238.2" stroke="#2a86b3" stroke-width="0.9" />
<line x1="104.3" y1="220.6" x2="160.2" y2="188.4" stroke="#58595b" stroke-width="1.9" />
<polygon points="103.5,220.6 105.3,221.4 105.3,225.5 103.5,224.6" fill="#8a8c8e" stroke="none" stroke-width="0" />
<polygon points="132.0,236.2 186.5,203.9 186.5,207.6 132.0,240.0" fill="#6f7072" stroke="#58595b" stroke-width="0.5" />
<line x1="160.0" y1="188.1" x2="186.5" y2="203.9" stroke="#c9ccce" stroke-width="0.6" />
<line x1="132.0" y1="236.2" x2="104.0" y2="220.4" stroke="#9a9c9e" stroke-width="0.5" />
<polygon points="233.5,244.5 237.0,243.5 259.0,266.5 255.5,267.5" fill="#ffffff" stroke="#6fb0cf" stroke-width="0.7" />
<polygon points="228.0,247.0 230.0,246.0 235.0,251.0 233.0,252.0" fill="#ffffff" stroke="#6fb0cf" stroke-width="0.7" />
<polygon points="188.0,273.5 191.5,272.5 212.0,294.0 208.5,295.0" fill="#ffffff" stroke="#6fb0cf" stroke-width="0.7" />
<line x1="197.0" y1="279.0" x2="224.0" y2="294.5" stroke="#6fb0cf" stroke-width="0.7" />
<line x1="198.5" y1="277.5" x2="226.0" y2="293.0" stroke="#6fb0cf" stroke-width="0.7" />
<polygon points="180.0,269.0 182.6,269.0 182.6,275.0 180.0,275.0" fill="#d9eff7" stroke="#7fb9d3" stroke-width="0.6" />
<line x1="181.3" y1="269.5" x2="181.3" y2="274.5" stroke="#9fd0e3" stroke-width="0.7" />
<polygon points="185.5,271.0 188.1,271.0 188.1,277.0 185.5,277.0" fill="#d9eff7" stroke="#7fb9d3" stroke-width="0.6" />
<line x1="186.8" y1="271.5" x2="186.8" y2="276.5" stroke="#9fd0e3" stroke-width="0.7" />
<polygon points="236.5,238.0 239.0,238.0 239.0,243.0 236.5,243.0" fill="#d9eff7" stroke="#7fb9d3" stroke-width="0.6" />
<line x1="237.8" y1="238.5" x2="237.8" y2="242.5" stroke="#9fd0e3" stroke-width="0.7" />
<polygon points="178.2,261.7 232.7,230.9 239.2,235.2 184.6,266.0" fill="#ffffff" stroke="none" stroke-width="0" />
<line x1="178.5" y1="261.9" x2="233.0" y2="231.1" stroke="#58595b" stroke-width="1.6" />
<polygon points="177.8,262.0 179.3,262.8 179.3,268.5 177.8,267.6" fill="#8a8c8e" stroke="none" stroke-width="0" />
<polygon points="184.6,266.0 239.2,235.2 239.2,238.6 184.6,269.5" fill="#6f7072" stroke="#58595b" stroke-width="0.5" />
<line x1="184.3" y1="266.0" x2="184.3" y2="270.0" stroke="#58595b" stroke-width="0.8" />
<ellipse cx="186" cy="172.3" rx="44.5" ry="23" transform="rotate(30 186 172.3)" fill="none" stroke="#1f79a9" stroke-width="1.3"/>
<circle cx="298.8" cy="202" r="3.6" fill="#1a7cab"/>
<circle cx="156" cy="370" r="4" fill="#1a7cab"/>
<circle cx="221.8" cy="405.4" r="4" fill="#1a7cab"/>
<circle cx="454.3" cy="364.5" r="2.7" fill="#1a7cab"/>
<text transform="translate(524.3,393.5) rotate(-80)" font-size="9.6" fill="#14639a" font-weight="bold" font-style="italic" text-anchor="start" textLength="64" lengthAdjust="spacingAndGlyphs" >Towards Rehab</text>
<circle cx="627.5" cy="624.9" r="2.8" fill="#1a7cab"/>
<circle cx="812.4" cy="569.3" r="2.9" fill="#1a7cab"/>
<circle cx="849.2" cy="733.8" r="3.4" fill="#1a7cab"/>
<circle cx="1227.4" cy="766.6" r="4.4" fill="#1a7cab"/>
<polygon points="1057.0,721.3 1059.4,720.1 1059.4,725.1 1057.0,726.3" fill="#a9dcec" stroke="#8fb8cc" stroke-width="0.4" />
<polygon points="1042.9,713.7 1066.5,700.5 1070.7,702.0 1070.7,714.7 1047.1,727.9 1042.9,727.9" fill="#d08b46" stroke="none" stroke-width="0" />
<polygon points="1043.8,714.3 1067.4,701.1 1070.7,702.0 1070.7,714.7 1047.1,727.9 1043.8,727.7" fill="#b5e0ee" stroke="none" stroke-width="0" />
<line x1="1045.2" y1="715.6" x2="1045.2" y2="726.7" stroke="#f2fbfe" stroke-width="1.0" />
<line x1="1045.0" y1="715.1" x2="1068.4" y2="702.0" stroke="#f2fbfe" stroke-width="0.8" />
<polygon points="1047.1,715.2 1070.7,702.0 1070.7,714.7 1047.1,727.9" fill="#d08b46" stroke="#b9712d" stroke-width="0.5" />
<polygon points="1035.1,754.7 1037.5,753.5 1037.5,758.5 1035.1,759.7" fill="#a9dcec" stroke="#8fb8cc" stroke-width="0.4" />
<polygon points="1021.1,746.7 1044.5,733.6 1048.7,735.1 1048.7,748.1 1025.3,761.2 1021.1,761.2" fill="#d08b46" stroke="none" stroke-width="0" />
<polygon points="1022.0,747.3 1045.4,734.2 1048.7,735.1 1048.7,748.1 1025.3,761.2 1022.0,761.0" fill="#b5e0ee" stroke="none" stroke-width="0" />
<line x1="1023.4" y1="748.6" x2="1023.4" y2="760.0" stroke="#f2fbfe" stroke-width="1.0" />
<line x1="1023.2" y1="748.1" x2="1046.4" y2="735.1" stroke="#f2fbfe" stroke-width="0.8" />
<polygon points="1025.3,748.2 1048.7,735.1 1048.7,748.1 1025.3,761.2" fill="#d08b46" stroke="#b9712d" stroke-width="0.5" />
<polygon points="1317.7,897.4 1320.3,898.4 1320.3,903.5 1317.7,902.5" fill="#a9dcec" stroke="#8fb8cc" stroke-width="0.4" />
<polygon points="1308.3,873.3 1332.4,886.2 1332.4,899.5 1329.8,901.7 1305.7,888.8 1305.7,875.9" fill="#b5e0ee" stroke="none" stroke-width="0" />
<line x1="1307.5" y1="874.2" x2="1331.5" y2="887.0" stroke="#f2fbfe" stroke-width="0.9" />
<polygon points="1305.7,875.9 1329.8,888.8 1329.8,901.7 1305.7,888.8" fill="#d08b46" stroke="#b9712d" stroke-width="0.5" />
<path d="M1052.4,630.4 L1037.7,639.1 L1091.1,670 L1111.8,658.8" stroke="#2f8dbb" stroke-width="1.0" fill="none" stroke-linecap="round" stroke-linejoin="round"/>
<polygon points="1089.4,635.1 1100.6,633.0 1100.6,659.7 1089.4,662.3" fill="#c3cfcb" stroke="#2f8dbb" stroke-width="1.0" stroke-linejoin="round"/>
<polygon points="1054.1,615.8 1087.7,635.6 1087.7,661.4 1054.1,642.5" fill="#c3cfcb" stroke="#2f8dbb" stroke-width="1.0" stroke-linejoin="round"/>
<path d="M1055.6,618.5 L1086.2,636.5 L1086.2,659" stroke="#e3ddc9" stroke-width="0.8" fill="none" />
<path d="M1090.8,636.2 L1099.2,634.6 L1099.2,658.6" stroke="#e3ddc9" stroke-width="0.7" fill="none" />
<path d="M1184,706.2 L1172.9,712.2 L1225.4,742.3 L1244.3,731.1" stroke="#2f8dbb" stroke-width="1.0" fill="none" stroke-linecap="round" stroke-linejoin="round"/>
<polygon points="1184.9,686.4 1190.9,683.0 1190.9,690.7 1184.9,693.0" fill="#c3cfcb" stroke="#2f8dbb" stroke-width="1.0" stroke-linejoin="round"/>
<polygon points="1221.0,707.2 1225.6,705.8 1225.6,733.4 1221.0,734.4" fill="#c3cfcb" stroke="#2f8dbb" stroke-width="1.0" stroke-linejoin="round"/>
<polygon points="1184.9,686.4 1220.2,707.0 1220.2,733.7 1184.9,714.8" fill="#c3cfcb" stroke="#2f8dbb" stroke-width="1.0" stroke-linejoin="round"/>
<path d="M1186.4,689 L1218.8,708 L1218.8,731.5" stroke="#e3ddc9" stroke-width="0.8" fill="none" />
<path d="M1035.2,616.7 C1038.5,622 1043,624.5 1048.5,624.8" stroke="#111" stroke-width="1.7" fill="none" stroke-linecap="round"/>
<polygon points="1051.3,625.3 1046.0,626.6 1046.8,622.2" fill="#111" stroke="none" stroke-width="0" />
<path d="M1245.1,712.2 C1242,708.5 1238,707.3 1233.5,708.3" stroke="#111" stroke-width="1.7" fill="none" stroke-linecap="round"/>
<polygon points="1230.3,709.8 1233.9,705.6 1235.8,709.7" fill="#111" stroke="none" stroke-width="0" />
<path d="M1114.3,676.1 C1108,686 1098,688.5 1086,688.3 C1077,688.2 1070.5,691 1066.5,694.2" stroke="#2b2b2b" stroke-width="1.2" fill="none" stroke-linecap="round"/>
<polygon points="1064.3,696.2 1066.3,692.1 1068.7,694.9" fill="#2b2b2b" stroke="none" stroke-width="0" />
<path d="M1122.1,697.6 C1112,693 1103,697 1094,703.5 C1087,708.5 1080,709.5 1075.8,706.8" stroke="#2b2b2b" stroke-width="1.2" fill="none" stroke-linecap="round"/>
<polygon points="1073.2,704.8 1077.7,705.9 1075.3,708.9" fill="#2b2b2b" stroke="none" stroke-width="0" />
<path d="M978,781.3 C990,784 998,778 1004,768 C1009,759.5 1013,756 1018,756" stroke="#2b2b2b" stroke-width="1.2" fill="none" stroke-linecap="round"/>
<polygon points="1021.0,756.0 1016.8,757.9 1016.8,754.1" fill="#2b2b2b" stroke="none" stroke-width="0" />
<path d="M993.6,789.7 C996,779 1003,775.5 1012,774.5 C1022,773.5 1028,770 1030.3,765.2" stroke="#2b2b2b" stroke-width="1.2" fill="none" stroke-linecap="round"/>
<polygon points="1031.5,762.5 1031.4,767.1 1028.0,765.5" fill="#2b2b2b" stroke="none" stroke-width="0" />
<path d="M123.5,152.5 C133,158 131,170 137,180 C141,187 146,191 151.5,193.2" stroke="#2b2b2b" stroke-width="1.2" fill="none" stroke-linecap="round"/>
<polygon points="154.3,194.3 149.7,194.5 151.1,191.0" fill="#2b2b2b" stroke="none" stroke-width="0" />
<path d="M266,213 C262,221 252,224.5 240,225 C231,225.5 225.5,229 222.8,232" stroke="#2b2b2b" stroke-width="1.2" fill="none" stroke-linecap="round"/>
<polygon points="220.8,234.0 222.4,229.7 225.1,232.4" fill="#2b2b2b" stroke="none" stroke-width="0" />
<path d="M118.5,277.5 C121,262 130,253 138,246 C141,243 142.5,241 143.2,238.5" stroke="#2b2b2b" stroke-width="1.2" fill="none" stroke-linecap="round"/>
<polygon points="143.8,236.0 144.6,240.5 141.0,239.6" fill="#2b2b2b" stroke="none" stroke-width="0" />
<path d="M171.5,310 C173,296 181,287 190,278 C194,274 195.5,271.5 196.3,269.5" stroke="#2b2b2b" stroke-width="1.2" fill="none" stroke-linecap="round"/>
<polygon points="197.0,267.0 197.5,271.6 193.9,270.4" fill="#2b2b2b" stroke="none" stroke-width="0" />
<path d="M1276.4,895.6 C1286,897.5 1294,893 1299.5,886.5" stroke="#111" stroke-width="2.6" fill="none" stroke-linecap="round"/>
<polygon points="1303.0,882.3 1301.0,890.3 1295.7,886.1" fill="#111" stroke="none" stroke-width="0" />
<text transform="translate(1284.5,908.6) rotate(8.9)" font-size="8.6" fill="#1b6a9a" font-weight="bold" font-style="normal" text-anchor="start" textLength="56" lengthAdjust="spacingAndGlyphs" >Towards Airport</text>
<text transform="matrix(0.8660,0.5000,-0.8660,0.5000,702.5,486.4)" font-size="11.2" fill="#ee4b2b" font-weight="normal" text-anchor="middle" textLength="39" lengthAdjust="spacingAndGlyphs" stroke="#ee4b2b" stroke-width="0.35">N.BN05</text>
<text transform="matrix(0.8660,0.5000,-0.8660,0.5000,612.5,566.0)" font-size="11.2" fill="#86996a" font-weight="normal" text-anchor="middle" textLength="39" lengthAdjust="spacingAndGlyphs" stroke="#86996a" stroke-width="0.35">N.BN11</text>
<text transform="matrix(0.8660,0.5000,-0.8660,0.5000,760.2,650.9)" font-size="11.2" fill="#e0559f" font-weight="normal" text-anchor="middle" textLength="39" lengthAdjust="spacingAndGlyphs" stroke="#e0559f" stroke-width="0.35">N.BN10</text>
<text transform="matrix(0.8660,0.5000,-0.8660,0.5000,927.9,613.2)" font-size="11.2" fill="#5b3b98" font-weight="normal" text-anchor="middle" textLength="39" lengthAdjust="spacingAndGlyphs" stroke="#5b3b98" stroke-width="0.35">N.BN04</text>
<text transform="matrix(0.8660,0.5000,-0.8660,0.5000,858.2,715.0)" font-size="11.2" fill="#2b9bd6" font-weight="normal" text-anchor="middle" textLength="39" lengthAdjust="spacingAndGlyphs" stroke="#2b9bd6" stroke-width="0.35">N.BN09</text>
<text transform="matrix(0.8660,0.5000,-0.8660,0.5000,1044.5,676.4)" font-size="11.2" fill="#dd1f8a" font-weight="bold" text-anchor="middle" textLength="41" lengthAdjust="spacingAndGlyphs">N.BN03</text>
<text transform="matrix(0.8660,0.5000,-0.8660,0.5000,958.5,765.6)" font-size="11.2" fill="#8fc96a" font-weight="normal" text-anchor="middle" textLength="39" lengthAdjust="spacingAndGlyphs" stroke="#8fc96a" stroke-width="0.35">N.BN08</text>
<text transform="matrix(0.8660,0.5000,-0.8660,0.5000,1114.5,720.0)" font-size="11.2" fill="#0f4f2b" font-weight="bold" text-anchor="middle" textLength="41" lengthAdjust="spacingAndGlyphs">N.BN02</text>
<text transform="matrix(0.8660,0.5000,-0.8660,0.5000,1167.5,754.4)" font-size="11.2" fill="#6d1a2c" font-weight="bold" text-anchor="middle" textLength="41" lengthAdjust="spacingAndGlyphs">N.BN01</text>
<text transform="matrix(0.8660,0.5000,-0.8660,0.5000,1069.5,818.0)" font-size="11.2" fill="#f58a72" font-weight="normal" text-anchor="middle" textLength="39" lengthAdjust="spacingAndGlyphs" stroke="#f58a72" stroke-width="0.35">N.BN07</text>
<text transform="matrix(0.8660,0.5000,-0.8660,0.5000,311.3,256.0)" font-size="11.2" fill="#2f2316" font-weight="normal" text-anchor="middle" textLength="39" lengthAdjust="spacingAndGlyphs" stroke="#2f2316" stroke-width="0.35">N.BN06</text>
<text transform="matrix(0.8660,0.5000,-0.8660,0.5000,225.5,335.0)" font-size="11.2" fill="#f39a10" font-weight="normal" text-anchor="middle" textLength="39" lengthAdjust="spacingAndGlyphs" stroke="#f39a10" stroke-width="0.35">N.BN12</text>
<text transform="matrix(0.8660,0.5000,-0.8660,0.5000,111.1,144.3)" font-size="12.6" fill="#333" font-weight="normal" text-anchor="middle" textLength="38" lengthAdjust="spacingAndGlyphs" stroke="#333" stroke-width="0.15">N.BR01</text>
<text transform="matrix(0.8660,0.5000,-0.8660,0.5000,258.5,207.3)" font-size="12.6" fill="#333" font-weight="normal" text-anchor="middle" textLength="38" lengthAdjust="spacingAndGlyphs" stroke="#333" stroke-width="0.15">N.BR02</text>
<text transform="translate(102.8,297.9) rotate(-30)" font-size="12.6" fill="#333" font-weight="normal" font-style="normal" text-anchor="middle" textLength="39" lengthAdjust="spacingAndGlyphs" stroke="#333" stroke-width="0.15">N.BR04</text>
<text transform="translate(153.8,317.9) rotate(-30)" font-size="12.6" fill="#333" font-weight="normal" font-style="normal" text-anchor="middle" textLength="39" lengthAdjust="spacingAndGlyphs" stroke="#333" stroke-width="0.15">N.BR03</text>
<text transform="matrix(0.8660,0.5000,-0.8660,0.5000,905.9,328.3)" font-size="15.5" fill="#15608f" font-weight="bold" text-anchor="middle" textLength="108" lengthAdjust="spacingAndGlyphs" stroke="#15608f" stroke-width="0.3">Towards Beirut</text>
<text transform="matrix(0.9018,0.4321,-0.8660,0.5000,1276.4,872.3)" font-size="11.2" fill="#c47a35" font-weight="normal" text-anchor="middle" textLength="45" lengthAdjust="spacingAndGlyphs" stroke="#c47a35" stroke-width="0.3">N.BM03</text>
<text transform="matrix(0.8660,0.5000,-0.8660,0.5000,851.4,659.1)" font-size="3.4" fill="#1b6a9a" font-weight="normal" text-anchor="middle">Exit</text>
<text transform="matrix(0.8660,-0.5000,0.8660,0.5000,1146.7,663.5)" font-size="11.2" fill="#c1732d" font-weight="normal" text-anchor="middle" textLength="61" lengthAdjust="spacingAndGlyphs" stroke="#c1732d" stroke-width="0.3">N.BM02(B)</text>
<text transform="matrix(0.8660,-0.5000,0.8660,0.5000,1154.0,683.7)" font-size="11.2" fill="#c1732d" font-weight="normal" text-anchor="middle" textLength="62" lengthAdjust="spacingAndGlyphs" stroke="#c1732d" stroke-width="0.3">N.BM02(A)</text>
<text transform="matrix(0.8660,-0.5000,0.8660,0.5000,957.2,802.4)" font-size="11.2" fill="#c1732d" font-weight="normal" text-anchor="middle" textLength="60" lengthAdjust="spacingAndGlyphs" stroke="#c1732d" stroke-width="0.3">N.BM01(A)</text>
<text transform="matrix(0.8660,-0.5000,0.8660,0.5000,988.7,805.2)" font-size="11.2" fill="#c1732d" font-weight="normal" text-anchor="middle" textLength="59" lengthAdjust="spacingAndGlyphs" stroke="#c1732d" stroke-width="0.3">N.BM01(B)</text>
<text transform="matrix(0.8660,-0.5000,0.8660,0.5000,1055.1,605.9)" font-size="11.5" fill="#b4c5c0" font-weight="normal" text-anchor="middle" textLength="32" lengthAdjust="spacingAndGlyphs" stroke="#b4c5c0" stroke-width="0.2">N.S01</text>
<text transform="matrix(0.8660,-0.5000,0.8660,0.5000,1259.0,698.4)" font-size="11.5" fill="#b4c5c0" font-weight="normal" text-anchor="middle" textLength="33" lengthAdjust="spacingAndGlyphs" stroke="#b4c5c0" stroke-width="0.2">N.S02</text>
<text transform="matrix(0.8660,-0.5000,0.8660,0.5000,55.1,259.4)" font-size="10" fill="#14639a" font-weight="bold" text-anchor="middle" textLength="60" lengthAdjust="spacingAndGlyphs" stroke="#14639a" stroke-width="0.3">Towards BHV</text>
<text transform="matrix(0.8660,-0.5000,0.8660,0.5000,97.6,279.8)" font-size="10" fill="#14639a" font-weight="bold" text-anchor="middle" textLength="47.5" lengthAdjust="spacingAndGlyphs" stroke="#14639a" stroke-width="0.3">From BHV</text>
<text transform="matrix(0.8660,-0.5000,0.8660,0.5000,177.7,167.8)" font-size="12.5" fill="#1b72a8" font-weight="bold" text-anchor="middle" textLength="38.6" lengthAdjust="spacingAndGlyphs" stroke="#1b72a8" stroke-width="0.25">Sports</text>
<text transform="matrix(0.8660,-0.5000,0.8660,0.5000,189.9,172.6)" font-size="12.5" fill="#1b72a8" font-weight="bold" text-anchor="middle" textLength="25.8" lengthAdjust="spacingAndGlyphs" stroke="#1b72a8" stroke-width="0.25">City</text>
<text transform="matrix(0.8660,-0.5000,0.8660,0.5000,199.9,182.0)" font-size="12.5" fill="#1b72a8" font-weight="bold" text-anchor="middle" textLength="46.3" lengthAdjust="spacingAndGlyphs" stroke="#1b72a8" stroke-width="0.25">Stadium</text>
<text transform="matrix(0.8660,-0.5000,0.8660,0.5000,363.6,170.8)" font-size="10" fill="#14639a" font-weight="bold" text-anchor="middle" textLength="128" lengthAdjust="spacingAndGlyphs" stroke="#14639a" stroke-width="0.3">Sports City Stadium Bridge</text>
<text transform="matrix(0.8660,-0.5000,0.8660,0.5000,188.6,354.6)" font-size="10.2" fill="#14639a" font-weight="bold" text-anchor="middle" textLength="58" lengthAdjust="spacingAndGlyphs" stroke="#14639a" stroke-width="0.3">Ogero Head</text>
<text transform="matrix(0.8660,-0.5000,0.8660,0.5000,195.1,363.0)" font-size="10.2" fill="#14639a" font-weight="bold" text-anchor="middle" textLength="30" lengthAdjust="spacingAndGlyphs" stroke="#14639a" stroke-width="0.3">Office</text>
<text transform="matrix(0.8660,-0.5000,0.8660,0.5000,259.1,387.8)" font-size="10.2" fill="#14639a" font-weight="bold" text-anchor="middle" textLength="66" lengthAdjust="spacingAndGlyphs" stroke="#14639a" stroke-width="0.3">Adnan Kassar</text>
<text transform="matrix(0.8660,-0.5000,0.8660,0.5000,263.7,394.3)" font-size="10.2" fill="#14639a" font-weight="bold" text-anchor="middle" textLength="42.4" lengthAdjust="spacingAndGlyphs" stroke="#14639a" stroke-width="0.3">Building</text>
<text transform="matrix(0.8660,-0.5000,0.8660,0.5000,272.3,433.3)" font-size="9.2" fill="#14639a" font-weight="bold" text-anchor="middle" textLength="142" lengthAdjust="spacingAndGlyphs" stroke="#14639a" stroke-width="0.3">Towards Sultan Ibrahim Descent</text>
<text transform="matrix(0.8660,-0.5000,0.8660,0.5000,298.6,443.1)" font-size="9.2" fill="#14639a" font-weight="bold" text-anchor="middle" textLength="50" lengthAdjust="spacingAndGlyphs" stroke="#14639a" stroke-width="0.3">From Ouzai</text>
<text transform="matrix(0.8660,-0.5000,0.8660,0.5000,493.9,309.8)" font-size="9.2" fill="#14639a" font-weight="bold" text-anchor="middle" textLength="55" lengthAdjust="spacingAndGlyphs" stroke="#14639a" stroke-width="0.3">From Rehab</text>
<text transform="matrix(0.8660,-0.5000,0.8660,0.5000,510.1,319.2)" font-size="9.2" fill="#14639a" font-weight="bold" text-anchor="middle" textLength="68.2" lengthAdjust="spacingAndGlyphs" stroke="#14639a" stroke-width="0.3">Towards Rehab</text>
<text transform="matrix(0.8660,-0.5000,0.8660,0.5000,476.9,354.2)" font-size="10.2" fill="#14639a" font-weight="bold" text-anchor="middle" textLength="33" lengthAdjust="spacingAndGlyphs" stroke="#14639a" stroke-width="0.3">Kuwait</text>
<text transform="matrix(0.8660,-0.5000,0.8660,0.5000,486.4,360.7)" font-size="10.2" fill="#14639a" font-weight="bold" text-anchor="middle" textLength="43.5" lengthAdjust="spacingAndGlyphs" stroke="#14639a" stroke-width="0.3">Embassy</text>
<text transform="matrix(0.8660,-0.5000,0.8660,0.5000,417.0,385.1)" font-size="7.2" fill="#14639a" font-weight="bold" text-anchor="middle" textLength="55" lengthAdjust="spacingAndGlyphs" stroke="#14639a" stroke-width="0.3">Kuwait Embassy</text>
<text transform="matrix(0.8660,-0.5000,0.8660,0.5000,422.5,389.9)" font-size="7.2" fill="#14639a" font-weight="bold" text-anchor="middle" textLength="40" lengthAdjust="spacingAndGlyphs" stroke="#14639a" stroke-width="0.3">Roundabout</text>
<text transform="matrix(0.8660,-0.5000,0.8660,0.5000,543.3,456.6)" font-size="10.2" fill="#14639a" font-weight="bold" text-anchor="middle" textLength="60.7" lengthAdjust="spacingAndGlyphs" stroke="#14639a" stroke-width="0.3">Riad Al Solh</text>
<text transform="matrix(0.8660,-0.5000,0.8660,0.5000,555.3,464.7)" font-size="10.2" fill="#14639a" font-weight="bold" text-anchor="middle" textLength="61.6" lengthAdjust="spacingAndGlyphs" stroke="#14639a" stroke-width="0.3">Roundabout</text>
<text transform="matrix(0.8660,-0.5000,0.8660,0.5000,652.8,613.4)" font-size="9.8" fill="#14639a" font-weight="bold" text-anchor="middle" textLength="37.9" lengthAdjust="spacingAndGlyphs" stroke="#14639a" stroke-width="0.3">Season</text>
<text transform="matrix(0.8660,-0.5000,0.8660,0.5000,661.7,617.7)" font-size="9.8" fill="#14639a" font-weight="bold" text-anchor="middle" textLength="52.7" lengthAdjust="spacingAndGlyphs" stroke="#14639a" stroke-width="0.3">Restaurant</text>
<text transform="matrix(0.8660,-0.5000,0.8660,0.5000,850.5,551.2)" font-size="10" fill="#14639a" font-weight="bold" text-anchor="middle" textLength="70" lengthAdjust="spacingAndGlyphs" stroke="#14639a" stroke-width="0.3">Fantasy World</text>
<text transform="matrix(0.8660,-0.5000,0.8660,0.5000,862.1,742.8)" font-size="9.8" fill="#14639a" font-weight="bold" text-anchor="middle" textLength="33.8" lengthAdjust="spacingAndGlyphs" stroke="#14639a" stroke-width="0.3">Bridge</text>
<text transform="matrix(0.8660,-0.5000,0.8660,0.5000,869.0,747.4)" font-size="9.8" fill="#14639a" font-weight="bold" text-anchor="middle" textLength="52" lengthAdjust="spacingAndGlyphs" stroke="#14639a" stroke-width="0.3">Restaurant</text>
<text transform="matrix(0.8660,-0.5000,0.8660,0.5000,1267.7,746.0)" font-size="8.6" fill="#14639a" font-weight="bold" text-anchor="middle" textLength="71.2" lengthAdjust="spacingAndGlyphs" stroke="#14639a" stroke-width="0.3">Al Ansar Stadium</text>
</svg>
</body></html>
